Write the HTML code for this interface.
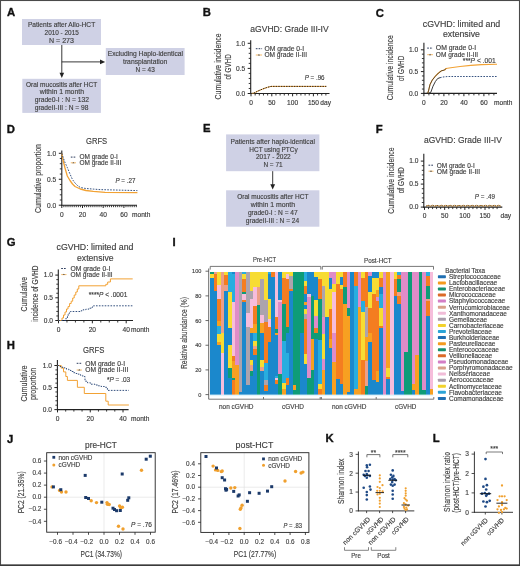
<!DOCTYPE html>
<html><head><meta charset="utf-8"><style>
html,body{margin:0;padding:0;background:#fff;}
svg{display:block;will-change:transform;}
text{font-family:"Liberation Sans",sans-serif;}
</style></head><body>
<svg width="520" height="566" viewBox="0 0 520 566" font-family="Liberation Sans, sans-serif" fill="#404040">
<rect width="520" height="566" fill="#fff"/>
<text x="7.00" y="16.40" font-size="11.3" fill="#111" stroke="#111" stroke-width="0.35" font-weight="bold">A</text>
<rect x="22.00" y="19.00" width="79.00" height="26.00" fill="#cfd1e5" />
<text x="27.90" y="27.10" font-size="7.0" stroke="#404040" stroke-width="0.15" textLength="67.30" lengthAdjust="spacingAndGlyphs">Patients after Allo-HCT</text>
<text x="44.60" y="34.80" font-size="7.0" stroke="#404040" stroke-width="0.15" textLength="34.20" lengthAdjust="spacingAndGlyphs">2010 - 2015</text>
<text x="49.00" y="42.90" font-size="7.0" stroke="#404040" stroke-width="0.15" textLength="25.00" lengthAdjust="spacingAndGlyphs">N = 273</text>
<rect x="105.80" y="48.00" width="78.80" height="27.00" fill="#cfd1e5" />
<text x="107.70" y="56.30" font-size="7.0" stroke="#404040" stroke-width="0.15" textLength="75.30" lengthAdjust="spacingAndGlyphs">Excluding Haplo-identical</text>
<text x="123.00" y="64.00" font-size="7.0" stroke="#404040" stroke-width="0.15" textLength="44.30" lengthAdjust="spacingAndGlyphs">transplantation</text>
<text x="135.60" y="71.90" font-size="7.0" stroke="#404040" stroke-width="0.15" textLength="19.20" lengthAdjust="spacingAndGlyphs">N = 43</text>
<rect x="22.30" y="78.80" width="78.60" height="34.10" fill="#cfd1e5" />
<text x="26.00" y="86.70" font-size="7.0" stroke="#404040" stroke-width="0.15" textLength="71.20" lengthAdjust="spacingAndGlyphs">Oral mucositis after HCT</text>
<text x="39.70" y="94.40" font-size="7.0" stroke="#404040" stroke-width="0.15" textLength="44.30" lengthAdjust="spacingAndGlyphs">within 1 month</text>
<text x="34.70" y="101.70" font-size="7.0" stroke="#404040" stroke-width="0.15" textLength="54.30" lengthAdjust="spacingAndGlyphs">grade0-I : N = 132</text>
<text x="34.70" y="110.00" font-size="7.0" stroke="#404040" stroke-width="0.15" textLength="53.70" lengthAdjust="spacingAndGlyphs">gradeII-III : N = 98</text>
<line x1="61.80" y1="45.00" x2="61.80" y2="73.50" stroke="#222" stroke-width="0.9" />
<polygon points="59.5,72.7 64.1,72.7 61.8,77.9" fill="#222"/>
<line x1="61.80" y1="61.90" x2="100.50" y2="61.90" stroke="#222" stroke-width="0.9" />
<polygon points="100,59.6 100,64.2 105.2,61.9" fill="#222"/>
<text x="203.00" y="132.20" font-size="11.3" fill="#111" stroke="#111" stroke-width="0.35" font-weight="bold">E</text>
<rect x="226.10" y="134.40" width="93.30" height="36.80" fill="#cfd1e5" />
<text x="230.50" y="144.20" font-size="7.0" stroke="#404040" stroke-width="0.15" textLength="84.40" lengthAdjust="spacingAndGlyphs">Patients after haplo-identical</text>
<text x="249.30" y="151.80" font-size="7.0" stroke="#404040" stroke-width="0.15" textLength="48.40" lengthAdjust="spacingAndGlyphs">HCT using PTCy</text>
<text x="256.00" y="159.40" font-size="7.0" stroke="#404040" stroke-width="0.15" textLength="34.70" lengthAdjust="spacingAndGlyphs">2017 - 2022</text>
<text x="263.40" y="167.00" font-size="7.0" stroke="#404040" stroke-width="0.15" textLength="19.20" lengthAdjust="spacingAndGlyphs">N = 71</text>
<line x1="272.70" y1="171.20" x2="272.70" y2="185.00" stroke="#222" stroke-width="0.9" />
<polygon points="270.3,184.2 275.1,184.2 272.7,189.4" fill="#222"/>
<rect x="226.10" y="190.30" width="93.30" height="36.40" fill="#cfd1e5" />
<text x="237.20" y="199.10" font-size="7.0" stroke="#404040" stroke-width="0.15" textLength="71.20" lengthAdjust="spacingAndGlyphs">Oral mucositis after HCT</text>
<text x="250.70" y="206.70" font-size="7.0" stroke="#404040" stroke-width="0.15" textLength="44.40" lengthAdjust="spacingAndGlyphs">within 1 month</text>
<text x="247.90" y="214.50" font-size="7.0" stroke="#404040" stroke-width="0.15" textLength="49.80" lengthAdjust="spacingAndGlyphs">grade0-I : N = 47</text>
<text x="245.80" y="222.60" font-size="7.0" stroke="#404040" stroke-width="0.15" textLength="53.40" lengthAdjust="spacingAndGlyphs">gradeII-III : N = 24</text>
<text x="202.70" y="16.30" font-size="11.3" fill="#111" stroke="#111" stroke-width="0.35" font-weight="bold">B</text>
<text x="250.30" y="32.30" font-size="8.6" stroke="#404040" stroke-width="0.15" textLength="78.40" lengthAdjust="spacingAndGlyphs">aGVHD: Grade III-IV</text>
<text x="0" y="0" font-size="8.6" text-anchor="middle" fill="#404040" stroke="#404040" stroke-width="0.15" textLength="66.00" lengthAdjust="spacingAndGlyphs" transform="translate(220.90 66.50) rotate(-90)">Cumulative incidence</text>
<text x="0" y="0" font-size="8.6" text-anchor="middle" fill="#404040" stroke="#404040" stroke-width="0.15" textLength="25.40" lengthAdjust="spacingAndGlyphs" transform="translate(231.20 66.90) rotate(-90)">of GVHD</text>
<line x1="250.70" y1="40.20" x2="250.70" y2="94.10" stroke="#222" stroke-width="1.1" />
<line x1="250.20" y1="93.50" x2="329.50" y2="93.50" stroke="#222" stroke-width="1.1" />
<line x1="247.70" y1="43.30" x2="250.70" y2="43.30" stroke="#222" stroke-width="1.0" />
<text x="245.20" y="45.60" font-size="6.6" text-anchor="end" fill="#3a3a3a" stroke="#3a3a3a" stroke-width="0.15">1.0</text>
<line x1="247.70" y1="68.40" x2="250.70" y2="68.40" stroke="#222" stroke-width="1.0" />
<text x="245.20" y="70.70" font-size="6.6" text-anchor="end" fill="#3a3a3a" stroke="#3a3a3a" stroke-width="0.15">0.5</text>
<line x1="247.70" y1="93.50" x2="250.70" y2="93.50" stroke="#222" stroke-width="1.0" />
<text x="245.20" y="95.80" font-size="6.6" text-anchor="end" fill="#3a3a3a" stroke="#3a3a3a" stroke-width="0.15">0.0</text>
<line x1="248.70" y1="88.48" x2="250.70" y2="88.48" stroke="#222" stroke-width="0.9" />
<line x1="248.70" y1="83.46" x2="250.70" y2="83.46" stroke="#222" stroke-width="0.9" />
<line x1="248.70" y1="78.44" x2="250.70" y2="78.44" stroke="#222" stroke-width="0.9" />
<line x1="248.70" y1="73.42" x2="250.70" y2="73.42" stroke="#222" stroke-width="0.9" />
<line x1="248.70" y1="63.38" x2="250.70" y2="63.38" stroke="#222" stroke-width="0.9" />
<line x1="248.70" y1="58.36" x2="250.70" y2="58.36" stroke="#222" stroke-width="0.9" />
<line x1="248.70" y1="53.34" x2="250.70" y2="53.34" stroke="#222" stroke-width="0.9" />
<line x1="248.70" y1="48.32" x2="250.70" y2="48.32" stroke="#222" stroke-width="0.9" />
<line x1="251.00" y1="93.50" x2="251.00" y2="96.30" stroke="#222" stroke-width="1.0" />
<text x="251.00" y="105.10" font-size="6.6" text-anchor="middle" fill="#3a3a3a" stroke="#3a3a3a" stroke-width="0.15">0</text>
<line x1="271.80" y1="93.50" x2="271.80" y2="96.30" stroke="#222" stroke-width="1.0" />
<text x="271.80" y="105.10" font-size="6.6" text-anchor="middle" fill="#3a3a3a" stroke="#3a3a3a" stroke-width="0.15">50</text>
<line x1="292.60" y1="93.50" x2="292.60" y2="96.30" stroke="#222" stroke-width="1.0" />
<text x="292.60" y="105.10" font-size="6.6" text-anchor="middle" fill="#3a3a3a" stroke="#3a3a3a" stroke-width="0.15">100</text>
<line x1="313.40" y1="93.50" x2="313.40" y2="96.30" stroke="#222" stroke-width="1.0" />
<text x="313.40" y="105.10" font-size="6.6" text-anchor="middle" fill="#3a3a3a" stroke="#3a3a3a" stroke-width="0.15">150</text>
<line x1="255.16" y1="93.50" x2="255.16" y2="95.50" stroke="#222" stroke-width="0.9" />
<line x1="259.32" y1="93.50" x2="259.32" y2="95.50" stroke="#222" stroke-width="0.9" />
<line x1="263.48" y1="93.50" x2="263.48" y2="95.50" stroke="#222" stroke-width="0.9" />
<line x1="267.64" y1="93.50" x2="267.64" y2="95.50" stroke="#222" stroke-width="0.9" />
<line x1="275.96" y1="93.50" x2="275.96" y2="95.50" stroke="#222" stroke-width="0.9" />
<line x1="280.12" y1="93.50" x2="280.12" y2="95.50" stroke="#222" stroke-width="0.9" />
<line x1="284.28" y1="93.50" x2="284.28" y2="95.50" stroke="#222" stroke-width="0.9" />
<line x1="288.44" y1="93.50" x2="288.44" y2="95.50" stroke="#222" stroke-width="0.9" />
<line x1="296.76" y1="93.50" x2="296.76" y2="95.50" stroke="#222" stroke-width="0.9" />
<line x1="300.92" y1="93.50" x2="300.92" y2="95.50" stroke="#222" stroke-width="0.9" />
<line x1="305.08" y1="93.50" x2="305.08" y2="95.50" stroke="#222" stroke-width="0.9" />
<line x1="309.24" y1="93.50" x2="309.24" y2="95.50" stroke="#222" stroke-width="0.9" />
<line x1="317.56" y1="93.50" x2="317.56" y2="95.50" stroke="#222" stroke-width="0.9" />
<line x1="321.72" y1="93.50" x2="321.72" y2="95.50" stroke="#222" stroke-width="0.9" />
<line x1="325.88" y1="93.50" x2="325.88" y2="95.50" stroke="#222" stroke-width="0.9" />
<text x="320.30" y="105.10" font-size="6.6" fill="#3a3a3a" stroke="#3a3a3a" stroke-width="0.15">day</text>
<line x1="255.80" y1="48.70" x2="262.10" y2="48.70" stroke="#2b3a5c" stroke-width="1.0" stroke-dasharray="1.7 1.1"/>
<line x1="255.80" y1="55.00" x2="262.10" y2="55.00" stroke="#f3b25a" stroke-width="0.9" />
<polygon points="257.85,55.50 260.05,55.50 258.95,54.10" fill="#555"/>
<text x="264.40" y="51.00" font-size="6.7" stroke="#404040" stroke-width="0.15" textLength="39.80" lengthAdjust="spacingAndGlyphs">OM grade 0-I</text>
<text x="264.40" y="57.30" font-size="6.7" stroke="#404040" stroke-width="0.15" textLength="42.60" lengthAdjust="spacingAndGlyphs">OM grade II-III</text>
<text x="304.70" y="80.10" font-size="6.7" stroke="#404040" stroke-width="0.15" textLength="19.90" lengthAdjust="spacingAndGlyphs"><tspan font-style="italic">P</tspan> = .96</text>
<polyline points="251.00,93.50 253.50,93.20 255.50,92.30 258.00,91.00 261.00,89.70 264.00,88.50 267.50,87.30 271.00,86.40 326.30,86.40" fill="none" stroke="#f2a234" stroke-width="1.0" stroke-linejoin="round"/>
<polyline points="251.00,93.50 253.50,93.20 255.50,92.30 258.00,91.00 261.00,89.70 264.00,88.50 267.50,87.30 271.00,86.40 326.30,86.40" fill="none" stroke="#1a1a1a" stroke-width="0.9" stroke-dasharray="1.5 1.1" stroke-linejoin="round"/>
<text x="375.80" y="17.00" font-size="11.3" fill="#111" stroke="#111" stroke-width="0.35" font-weight="bold">C</text>
<text x="422.80" y="26.80" font-size="8.5" stroke="#404040" stroke-width="0.15" textLength="77.40" lengthAdjust="spacingAndGlyphs">cGVHD: limited and</text>
<text x="443.00" y="37.20" font-size="8.5" stroke="#404040" stroke-width="0.15" textLength="36.90" lengthAdjust="spacingAndGlyphs">extensive</text>
<text x="0" y="0" font-size="8.6" text-anchor="middle" fill="#404040" stroke="#404040" stroke-width="0.15" textLength="65.00" lengthAdjust="spacingAndGlyphs" transform="translate(393.20 67.70) rotate(-90)">Cumulative incidence</text>
<text x="0" y="0" font-size="8.6" text-anchor="middle" fill="#404040" stroke="#404040" stroke-width="0.15" textLength="25.20" lengthAdjust="spacingAndGlyphs" transform="translate(404.00 68.40) rotate(-90)">of GVHD</text>
<line x1="423.90" y1="42.80" x2="423.90" y2="94.00" stroke="#222" stroke-width="1.1" />
<line x1="423.40" y1="93.40" x2="497.00" y2="93.40" stroke="#222" stroke-width="1.1" />
<line x1="420.90" y1="49.80" x2="423.90" y2="49.80" stroke="#222" stroke-width="1.0" />
<text x="418.20" y="52.10" font-size="6.6" text-anchor="end" fill="#3a3a3a" stroke="#3a3a3a" stroke-width="0.15">1.0</text>
<line x1="420.90" y1="71.60" x2="423.90" y2="71.60" stroke="#222" stroke-width="1.0" />
<text x="418.20" y="73.90" font-size="6.6" text-anchor="end" fill="#3a3a3a" stroke="#3a3a3a" stroke-width="0.15">0.5</text>
<line x1="420.90" y1="93.40" x2="423.90" y2="93.40" stroke="#222" stroke-width="1.0" />
<text x="418.20" y="95.70" font-size="6.6" text-anchor="end" fill="#3a3a3a" stroke="#3a3a3a" stroke-width="0.15">0.0</text>
<line x1="421.90" y1="89.04" x2="423.90" y2="89.04" stroke="#222" stroke-width="0.9" />
<line x1="421.90" y1="84.68" x2="423.90" y2="84.68" stroke="#222" stroke-width="0.9" />
<line x1="421.90" y1="80.32" x2="423.90" y2="80.32" stroke="#222" stroke-width="0.9" />
<line x1="421.90" y1="75.96" x2="423.90" y2="75.96" stroke="#222" stroke-width="0.9" />
<line x1="421.90" y1="67.24" x2="423.90" y2="67.24" stroke="#222" stroke-width="0.9" />
<line x1="421.90" y1="62.88" x2="423.90" y2="62.88" stroke="#222" stroke-width="0.9" />
<line x1="421.90" y1="58.52" x2="423.90" y2="58.52" stroke="#222" stroke-width="0.9" />
<line x1="421.90" y1="54.16" x2="423.90" y2="54.16" stroke="#222" stroke-width="0.9" />
<line x1="423.90" y1="93.40" x2="423.90" y2="96.20" stroke="#222" stroke-width="1.0" />
<text x="423.90" y="104.90" font-size="6.6" text-anchor="middle" fill="#3a3a3a" stroke="#3a3a3a" stroke-width="0.15">0</text>
<line x1="443.90" y1="93.40" x2="443.90" y2="96.20" stroke="#222" stroke-width="1.0" />
<text x="443.90" y="104.90" font-size="6.6" text-anchor="middle" fill="#3a3a3a" stroke="#3a3a3a" stroke-width="0.15">20</text>
<line x1="463.90" y1="93.40" x2="463.90" y2="96.20" stroke="#222" stroke-width="1.0" />
<text x="463.90" y="104.90" font-size="6.6" text-anchor="middle" fill="#3a3a3a" stroke="#3a3a3a" stroke-width="0.15">40</text>
<line x1="483.90" y1="93.40" x2="483.90" y2="96.20" stroke="#222" stroke-width="1.0" />
<text x="483.90" y="104.90" font-size="6.6" text-anchor="middle" fill="#3a3a3a" stroke="#3a3a3a" stroke-width="0.15">60</text>
<line x1="428.90" y1="93.40" x2="428.90" y2="95.40" stroke="#222" stroke-width="0.9" />
<line x1="433.90" y1="93.40" x2="433.90" y2="95.40" stroke="#222" stroke-width="0.9" />
<line x1="438.90" y1="93.40" x2="438.90" y2="95.40" stroke="#222" stroke-width="0.9" />
<line x1="448.90" y1="93.40" x2="448.90" y2="95.40" stroke="#222" stroke-width="0.9" />
<line x1="453.90" y1="93.40" x2="453.90" y2="95.40" stroke="#222" stroke-width="0.9" />
<line x1="458.90" y1="93.40" x2="458.90" y2="95.40" stroke="#222" stroke-width="0.9" />
<line x1="468.90" y1="93.40" x2="468.90" y2="95.40" stroke="#222" stroke-width="0.9" />
<line x1="473.90" y1="93.40" x2="473.90" y2="95.40" stroke="#222" stroke-width="0.9" />
<line x1="478.90" y1="93.40" x2="478.90" y2="95.40" stroke="#222" stroke-width="0.9" />
<line x1="488.90" y1="93.40" x2="488.90" y2="95.40" stroke="#222" stroke-width="0.9" />
<line x1="493.90" y1="93.40" x2="493.90" y2="95.40" stroke="#222" stroke-width="0.9" />
<text x="494.00" y="104.90" font-size="6.6" fill="#3a3a3a" stroke="#3a3a3a" stroke-width="0.15">month</text>
<line x1="427.20" y1="48.10" x2="432.90" y2="48.10" stroke="#2b3a5c" stroke-width="1.0" stroke-dasharray="1.7 1.1"/>
<line x1="427.20" y1="54.70" x2="432.90" y2="54.70" stroke="#f3b25a" stroke-width="0.9" />
<polygon points="428.95,55.20 431.15,55.20 430.05,53.80" fill="#555"/>
<text x="435.80" y="50.40" font-size="6.7" stroke="#404040" stroke-width="0.15" textLength="40.40" lengthAdjust="spacingAndGlyphs">OM grade 0-I</text>
<text x="435.80" y="57.00" font-size="6.7" stroke="#404040" stroke-width="0.15" textLength="42.30" lengthAdjust="spacingAndGlyphs">OM grade II-III</text>
<text x="462.80" y="63.10" font-size="6.7" stroke="#404040" stroke-width="0.15" textLength="32.90" lengthAdjust="spacingAndGlyphs">***<tspan font-style="italic">P</tspan> &lt; .001</text>
<polyline points="427.70,93.40 428.50,90.80 430.00,84.60 432.30,80.00 435.40,76.20 438.50,73.00 441.50,70.80 444.60,70.00 446.00,68.50 450.80,67.70 460.00,66.50 470.80,65.40 481.50,64.60 497.00,64.30" fill="none" stroke="#f2a234" stroke-width="1.1" stroke-linejoin="round"/>
<polyline points="427.70,93.40 428.50,90.80 430.00,84.60 432.30,80.00 435.40,76.20 438.50,73.00 441.50,70.80 444.60,70.00 446.00,68.50" fill="none" stroke="#222" stroke-width="0.7" stroke-linejoin="round"/>
<polyline points="426.00,93.40 428.50,93.30 430.80,92.30 433.00,86.20 435.40,81.50 437.70,78.50 440.00,77.70" fill="none" stroke="#222" stroke-width="0.9" stroke-linejoin="round"/>
<polyline points="440.00,77.70 443.00,77.00 447.70,76.50 497.00,76.50" fill="none" stroke="#1e3d70" stroke-width="0.9" stroke-dasharray="1.6 1.3" stroke-linejoin="round"/>
<text x="6.80" y="132.50" font-size="11.3" fill="#111" stroke="#111" stroke-width="0.35" font-weight="bold">D</text>
<text x="86.00" y="144.30" font-size="8.5" stroke="#404040" stroke-width="0.15" textLength="21.20" lengthAdjust="spacingAndGlyphs">GRFS</text>
<text x="0" y="0" font-size="8.6" text-anchor="middle" fill="#404040" stroke="#404040" stroke-width="0.15" textLength="69.00" lengthAdjust="spacingAndGlyphs" transform="translate(41.20 178.50) rotate(-90)">Cumulative proportion</text>
<line x1="61.80" y1="150.50" x2="61.80" y2="205.80" stroke="#222" stroke-width="1.1" />
<line x1="61.30" y1="205.20" x2="137.00" y2="205.20" stroke="#222" stroke-width="1.1" />
<line x1="58.80" y1="153.30" x2="61.80" y2="153.30" stroke="#222" stroke-width="1.0" />
<text x="56.20" y="155.60" font-size="6.6" text-anchor="end" fill="#3a3a3a" stroke="#3a3a3a" stroke-width="0.15">1.0</text>
<line x1="58.80" y1="179.25" x2="61.80" y2="179.25" stroke="#222" stroke-width="1.0" />
<text x="56.20" y="181.55" font-size="6.6" text-anchor="end" fill="#3a3a3a" stroke="#3a3a3a" stroke-width="0.15">0.5</text>
<line x1="58.80" y1="205.20" x2="61.80" y2="205.20" stroke="#222" stroke-width="1.0" />
<text x="56.20" y="207.50" font-size="6.6" text-anchor="end" fill="#3a3a3a" stroke="#3a3a3a" stroke-width="0.15">0.0</text>
<line x1="59.80" y1="200.01" x2="61.80" y2="200.01" stroke="#222" stroke-width="0.9" />
<line x1="59.80" y1="194.82" x2="61.80" y2="194.82" stroke="#222" stroke-width="0.9" />
<line x1="59.80" y1="189.63" x2="61.80" y2="189.63" stroke="#222" stroke-width="0.9" />
<line x1="59.80" y1="184.44" x2="61.80" y2="184.44" stroke="#222" stroke-width="0.9" />
<line x1="59.80" y1="174.06" x2="61.80" y2="174.06" stroke="#222" stroke-width="0.9" />
<line x1="59.80" y1="168.87" x2="61.80" y2="168.87" stroke="#222" stroke-width="0.9" />
<line x1="59.80" y1="163.68" x2="61.80" y2="163.68" stroke="#222" stroke-width="0.9" />
<line x1="59.80" y1="158.49" x2="61.80" y2="158.49" stroke="#222" stroke-width="0.9" />
<line x1="61.80" y1="205.20" x2="61.80" y2="208.00" stroke="#222" stroke-width="1.0" />
<text x="61.80" y="216.80" font-size="6.6" text-anchor="middle" fill="#3a3a3a" stroke="#3a3a3a" stroke-width="0.15">0</text>
<line x1="82.50" y1="205.20" x2="82.50" y2="208.00" stroke="#222" stroke-width="1.0" />
<text x="82.50" y="216.80" font-size="6.6" text-anchor="middle" fill="#3a3a3a" stroke="#3a3a3a" stroke-width="0.15">20</text>
<line x1="103.20" y1="205.20" x2="103.20" y2="208.00" stroke="#222" stroke-width="1.0" />
<text x="103.20" y="216.80" font-size="6.6" text-anchor="middle" fill="#3a3a3a" stroke="#3a3a3a" stroke-width="0.15">40</text>
<line x1="123.90" y1="205.20" x2="123.90" y2="208.00" stroke="#222" stroke-width="1.0" />
<text x="123.90" y="216.80" font-size="6.6" text-anchor="middle" fill="#3a3a3a" stroke="#3a3a3a" stroke-width="0.15">60</text>
<line x1="63.87" y1="205.20" x2="63.87" y2="207.20" stroke="#222" stroke-width="0.9" />
<line x1="65.94" y1="205.20" x2="65.94" y2="207.20" stroke="#222" stroke-width="0.9" />
<line x1="68.01" y1="205.20" x2="68.01" y2="207.20" stroke="#222" stroke-width="0.9" />
<line x1="70.08" y1="205.20" x2="70.08" y2="207.20" stroke="#222" stroke-width="0.9" />
<line x1="72.15" y1="205.20" x2="72.15" y2="207.20" stroke="#222" stroke-width="0.9" />
<line x1="74.22" y1="205.20" x2="74.22" y2="207.20" stroke="#222" stroke-width="0.9" />
<line x1="76.29" y1="205.20" x2="76.29" y2="207.20" stroke="#222" stroke-width="0.9" />
<line x1="78.36" y1="205.20" x2="78.36" y2="207.20" stroke="#222" stroke-width="0.9" />
<line x1="80.43" y1="205.20" x2="80.43" y2="207.20" stroke="#222" stroke-width="0.9" />
<line x1="84.57" y1="205.20" x2="84.57" y2="207.20" stroke="#222" stroke-width="0.9" />
<line x1="86.64" y1="205.20" x2="86.64" y2="207.20" stroke="#222" stroke-width="0.9" />
<line x1="88.71" y1="205.20" x2="88.71" y2="207.20" stroke="#222" stroke-width="0.9" />
<line x1="90.78" y1="205.20" x2="90.78" y2="207.20" stroke="#222" stroke-width="0.9" />
<line x1="92.85" y1="205.20" x2="92.85" y2="207.20" stroke="#222" stroke-width="0.9" />
<line x1="94.92" y1="205.20" x2="94.92" y2="207.20" stroke="#222" stroke-width="0.9" />
<line x1="96.99" y1="205.20" x2="96.99" y2="207.20" stroke="#222" stroke-width="0.9" />
<line x1="99.06" y1="205.20" x2="99.06" y2="207.20" stroke="#222" stroke-width="0.9" />
<line x1="101.13" y1="205.20" x2="101.13" y2="207.20" stroke="#222" stroke-width="0.9" />
<line x1="105.27" y1="205.20" x2="105.27" y2="207.20" stroke="#222" stroke-width="0.9" />
<line x1="107.34" y1="205.20" x2="107.34" y2="207.20" stroke="#222" stroke-width="0.9" />
<line x1="109.41" y1="205.20" x2="109.41" y2="207.20" stroke="#222" stroke-width="0.9" />
<line x1="111.48" y1="205.20" x2="111.48" y2="207.20" stroke="#222" stroke-width="0.9" />
<line x1="113.55" y1="205.20" x2="113.55" y2="207.20" stroke="#222" stroke-width="0.9" />
<line x1="115.62" y1="205.20" x2="115.62" y2="207.20" stroke="#222" stroke-width="0.9" />
<line x1="117.69" y1="205.20" x2="117.69" y2="207.20" stroke="#222" stroke-width="0.9" />
<line x1="119.76" y1="205.20" x2="119.76" y2="207.20" stroke="#222" stroke-width="0.9" />
<line x1="121.83" y1="205.20" x2="121.83" y2="207.20" stroke="#222" stroke-width="0.9" />
<line x1="125.97" y1="205.20" x2="125.97" y2="207.20" stroke="#222" stroke-width="0.9" />
<line x1="128.04" y1="205.20" x2="128.04" y2="207.20" stroke="#222" stroke-width="0.9" />
<line x1="130.11" y1="205.20" x2="130.11" y2="207.20" stroke="#222" stroke-width="0.9" />
<line x1="132.18" y1="205.20" x2="132.18" y2="207.20" stroke="#222" stroke-width="0.9" />
<line x1="134.25" y1="205.20" x2="134.25" y2="207.20" stroke="#222" stroke-width="0.9" />
<line x1="136.32" y1="205.20" x2="136.32" y2="207.20" stroke="#222" stroke-width="0.9" />
<text x="132.00" y="216.80" font-size="6.6" fill="#3a3a3a" stroke="#3a3a3a" stroke-width="0.15">month</text>
<line x1="70.80" y1="157.10" x2="76.00" y2="157.10" stroke="#2b3a5c" stroke-width="1.0" stroke-dasharray="1.7 1.1"/>
<line x1="70.80" y1="162.80" x2="76.00" y2="162.80" stroke="#f3b25a" stroke-width="0.9" />
<polygon points="72.30,163.30 74.50,163.30 73.40,161.90" fill="#555"/>
<text x="79.40" y="159.40" font-size="6.7" stroke="#404040" stroke-width="0.15" textLength="38.50" lengthAdjust="spacingAndGlyphs">OM grade 0-I</text>
<text x="79.40" y="165.10" font-size="6.7" stroke="#404040" stroke-width="0.15" textLength="42.00" lengthAdjust="spacingAndGlyphs">OM grade II-III</text>
<text x="115.40" y="183.30" font-size="6.7" stroke="#404040" stroke-width="0.15" textLength="20.00" lengthAdjust="spacingAndGlyphs"><tspan font-style="italic">P</tspan> = .27</text>
<polyline points="61.80,153.30 63.00,160.00 65.00,168.00 67.30,176.00 70.00,180.50 72.50,184.00 75.00,186.50 80.30,189.00 86.00,190.50 93.30,191.40 105.00,192.30 137.40,192.60" fill="none" stroke="#f2a234" stroke-width="1.3" stroke-linejoin="round"/>
<polyline points="61.80,153.30 63.00,157.00 65.00,162.50 67.30,167.50 70.00,174.00 72.50,179.60 75.00,183.00 78.00,186.00 80.30,187.40 85.00,188.40 93.30,189.10 100.00,189.60 137.40,190.60" fill="none" stroke="#1e3d70" stroke-width="0.9" stroke-dasharray="1.6 1.3" stroke-linejoin="round"/>
<text x="375.80" y="132.60" font-size="11.3" fill="#111" stroke="#111" stroke-width="0.35" font-weight="bold">F</text>
<text x="424.00" y="143.40" font-size="8.6" stroke="#404040" stroke-width="0.15" textLength="77.80" lengthAdjust="spacingAndGlyphs">aGVHD: Grade III-IV</text>
<text x="0" y="0" font-size="8.6" text-anchor="middle" fill="#404040" stroke="#404040" stroke-width="0.15" textLength="66.20" lengthAdjust="spacingAndGlyphs" transform="translate(393.90 180.60) rotate(-90)">Cumulative incidence</text>
<text x="0" y="0" font-size="8.6" text-anchor="middle" fill="#404040" stroke="#404040" stroke-width="0.15" textLength="26.00" lengthAdjust="spacingAndGlyphs" transform="translate(403.50 180.30) rotate(-90)">of GVHD</text>
<line x1="423.80" y1="153.80" x2="423.80" y2="207.70" stroke="#222" stroke-width="1.1" />
<line x1="423.30" y1="207.10" x2="502.30" y2="207.10" stroke="#222" stroke-width="1.1" />
<line x1="420.80" y1="161.10" x2="423.80" y2="161.10" stroke="#222" stroke-width="1.0" />
<text x="418.50" y="163.40" font-size="6.6" text-anchor="end" fill="#3a3a3a" stroke="#3a3a3a" stroke-width="0.15">1.0</text>
<line x1="420.80" y1="184.10" x2="423.80" y2="184.10" stroke="#222" stroke-width="1.0" />
<text x="418.50" y="186.40" font-size="6.6" text-anchor="end" fill="#3a3a3a" stroke="#3a3a3a" stroke-width="0.15">0.5</text>
<line x1="420.80" y1="207.10" x2="423.80" y2="207.10" stroke="#222" stroke-width="1.0" />
<text x="418.50" y="209.40" font-size="6.6" text-anchor="end" fill="#3a3a3a" stroke="#3a3a3a" stroke-width="0.15">0.0</text>
<line x1="421.80" y1="202.50" x2="423.80" y2="202.50" stroke="#222" stroke-width="0.9" />
<line x1="421.80" y1="197.90" x2="423.80" y2="197.90" stroke="#222" stroke-width="0.9" />
<line x1="421.80" y1="193.30" x2="423.80" y2="193.30" stroke="#222" stroke-width="0.9" />
<line x1="421.80" y1="188.70" x2="423.80" y2="188.70" stroke="#222" stroke-width="0.9" />
<line x1="421.80" y1="179.50" x2="423.80" y2="179.50" stroke="#222" stroke-width="0.9" />
<line x1="421.80" y1="174.90" x2="423.80" y2="174.90" stroke="#222" stroke-width="0.9" />
<line x1="421.80" y1="170.30" x2="423.80" y2="170.30" stroke="#222" stroke-width="0.9" />
<line x1="421.80" y1="165.70" x2="423.80" y2="165.70" stroke="#222" stroke-width="0.9" />
<line x1="424.50" y1="207.10" x2="424.50" y2="209.90" stroke="#222" stroke-width="1.0" />
<text x="424.50" y="218.30" font-size="6.6" text-anchor="middle" fill="#3a3a3a" stroke="#3a3a3a" stroke-width="0.15">0</text>
<line x1="444.67" y1="207.10" x2="444.67" y2="209.90" stroke="#222" stroke-width="1.0" />
<text x="444.67" y="218.30" font-size="6.6" text-anchor="middle" fill="#3a3a3a" stroke="#3a3a3a" stroke-width="0.15">50</text>
<line x1="464.83" y1="207.10" x2="464.83" y2="209.90" stroke="#222" stroke-width="1.0" />
<text x="464.83" y="218.30" font-size="6.6" text-anchor="middle" fill="#3a3a3a" stroke="#3a3a3a" stroke-width="0.15">100</text>
<line x1="485.00" y1="207.10" x2="485.00" y2="209.90" stroke="#222" stroke-width="1.0" />
<text x="485.00" y="218.30" font-size="6.6" text-anchor="middle" fill="#3a3a3a" stroke="#3a3a3a" stroke-width="0.15">150</text>
<line x1="428.53" y1="207.10" x2="428.53" y2="209.10" stroke="#222" stroke-width="0.9" />
<line x1="432.57" y1="207.10" x2="432.57" y2="209.10" stroke="#222" stroke-width="0.9" />
<line x1="436.60" y1="207.10" x2="436.60" y2="209.10" stroke="#222" stroke-width="0.9" />
<line x1="440.63" y1="207.10" x2="440.63" y2="209.10" stroke="#222" stroke-width="0.9" />
<line x1="448.70" y1="207.10" x2="448.70" y2="209.10" stroke="#222" stroke-width="0.9" />
<line x1="452.73" y1="207.10" x2="452.73" y2="209.10" stroke="#222" stroke-width="0.9" />
<line x1="456.77" y1="207.10" x2="456.77" y2="209.10" stroke="#222" stroke-width="0.9" />
<line x1="460.80" y1="207.10" x2="460.80" y2="209.10" stroke="#222" stroke-width="0.9" />
<line x1="468.87" y1="207.10" x2="468.87" y2="209.10" stroke="#222" stroke-width="0.9" />
<line x1="472.90" y1="207.10" x2="472.90" y2="209.10" stroke="#222" stroke-width="0.9" />
<line x1="476.93" y1="207.10" x2="476.93" y2="209.10" stroke="#222" stroke-width="0.9" />
<line x1="480.97" y1="207.10" x2="480.97" y2="209.10" stroke="#222" stroke-width="0.9" />
<line x1="489.03" y1="207.10" x2="489.03" y2="209.10" stroke="#222" stroke-width="0.9" />
<line x1="493.07" y1="207.10" x2="493.07" y2="209.10" stroke="#222" stroke-width="0.9" />
<line x1="497.10" y1="207.10" x2="497.10" y2="209.10" stroke="#222" stroke-width="0.9" />
<text x="500.50" y="218.30" font-size="6.6" fill="#3a3a3a" stroke="#3a3a3a" stroke-width="0.15">day</text>
<line x1="428.50" y1="165.20" x2="433.50" y2="165.20" stroke="#2b3a5c" stroke-width="1.0" stroke-dasharray="1.7 1.1"/>
<line x1="428.50" y1="171.20" x2="433.50" y2="171.20" stroke="#f3b25a" stroke-width="0.9" />
<polygon points="429.90,171.70 432.10,171.70 431.00,170.30" fill="#555"/>
<text x="436.70" y="167.50" font-size="6.7" stroke="#404040" stroke-width="0.15" textLength="38.10" lengthAdjust="spacingAndGlyphs">OM grade 0-I</text>
<text x="436.70" y="173.50" font-size="6.7" stroke="#404040" stroke-width="0.15" textLength="43.40" lengthAdjust="spacingAndGlyphs">OM grade II-III</text>
<text x="474.80" y="199.30" font-size="6.7" stroke="#404040" stroke-width="0.15" textLength="20.10" lengthAdjust="spacingAndGlyphs"><tspan font-style="italic">P</tspan> = .49</text>
<polyline points="426.00,206.20 428.20,205.30 430.40,206.20 432.60,205.30 434.80,206.20 437.00,205.30 439.20,206.20 441.40,205.30 443.60,206.20 445.80,205.30 448.00,206.20 450.20,205.30 452.40,206.20 454.60,205.30 456.80,206.20 459.00,205.30 461.20,206.20 463.40,205.30 465.60,206.20 467.80,205.30 470.00,206.20 472.20,205.30 474.40,206.20 476.60,205.30 478.80,206.20 481.00,205.30 483.20,206.20 485.40,205.30 487.60,206.20 489.80,205.30 492.00,206.20 494.20,205.30 496.40,206.20 498.60,205.30 500.80,206.20" fill="none" stroke="#f2a234" stroke-width="0.9" stroke-linejoin="round"/>
<polyline points="426.00,206.20 428.20,205.30 430.40,206.20 432.60,205.30 434.80,206.20 437.00,205.30 439.20,206.20 441.40,205.30 443.60,206.20 445.80,205.30 448.00,206.20 450.20,205.30 452.40,206.20 454.60,205.30 456.80,206.20 459.00,205.30 461.20,206.20 463.40,205.30 465.60,206.20 467.80,205.30 470.00,206.20 472.20,205.30 474.40,206.20 476.60,205.30 478.80,206.20 481.00,205.30 483.20,206.20 485.40,205.30 487.60,206.20 489.80,205.30 492.00,206.20 494.20,205.30 496.40,206.20 498.60,205.30 500.80,206.20" fill="none" stroke="#222" stroke-width="0.7" stroke-dasharray="1.4 1.0" stroke-linejoin="round"/>
<text x="6.80" y="245.50" font-size="11.3" fill="#111" stroke="#111" stroke-width="0.35" font-weight="bold">G</text>
<text x="56.50" y="250.30" font-size="8.5" stroke="#404040" stroke-width="0.15" textLength="76.90" lengthAdjust="spacingAndGlyphs">cGVHD: limited and</text>
<text x="77.00" y="260.70" font-size="8.5" stroke="#404040" stroke-width="0.15" textLength="36.60" lengthAdjust="spacingAndGlyphs">extensive</text>
<text x="0" y="0" font-size="8.6" text-anchor="middle" fill="#404040" stroke="#404040" stroke-width="0.15" textLength="34.60" lengthAdjust="spacingAndGlyphs" transform="translate(27.30 294.30) rotate(-90)">Cumulative</text>
<text x="0" y="0" font-size="8.6" text-anchor="middle" fill="#404040" stroke="#404040" stroke-width="0.15" textLength="56.30" lengthAdjust="spacingAndGlyphs" transform="translate(38.00 293.50) rotate(-90)">incidence of GVHD</text>
<line x1="58.30" y1="269.50" x2="58.30" y2="321.10" stroke="#222" stroke-width="1.1" />
<line x1="57.80" y1="320.50" x2="133.00" y2="320.50" stroke="#222" stroke-width="1.1" />
<line x1="55.30" y1="275.10" x2="58.30" y2="275.10" stroke="#222" stroke-width="1.0" />
<text x="53.00" y="277.40" font-size="6.6" text-anchor="end" fill="#3a3a3a" stroke="#3a3a3a" stroke-width="0.15">1.0</text>
<line x1="55.30" y1="297.80" x2="58.30" y2="297.80" stroke="#222" stroke-width="1.0" />
<text x="53.00" y="300.10" font-size="6.6" text-anchor="end" fill="#3a3a3a" stroke="#3a3a3a" stroke-width="0.15">0.5</text>
<line x1="55.30" y1="320.50" x2="58.30" y2="320.50" stroke="#222" stroke-width="1.0" />
<text x="53.00" y="322.80" font-size="6.6" text-anchor="end" fill="#3a3a3a" stroke="#3a3a3a" stroke-width="0.15">0.0</text>
<line x1="56.30" y1="315.96" x2="58.30" y2="315.96" stroke="#222" stroke-width="0.9" />
<line x1="56.30" y1="311.42" x2="58.30" y2="311.42" stroke="#222" stroke-width="0.9" />
<line x1="56.30" y1="306.88" x2="58.30" y2="306.88" stroke="#222" stroke-width="0.9" />
<line x1="56.30" y1="302.34" x2="58.30" y2="302.34" stroke="#222" stroke-width="0.9" />
<line x1="56.30" y1="293.26" x2="58.30" y2="293.26" stroke="#222" stroke-width="0.9" />
<line x1="56.30" y1="288.72" x2="58.30" y2="288.72" stroke="#222" stroke-width="0.9" />
<line x1="56.30" y1="284.18" x2="58.30" y2="284.18" stroke="#222" stroke-width="0.9" />
<line x1="56.30" y1="279.64" x2="58.30" y2="279.64" stroke="#222" stroke-width="0.9" />
<line x1="58.50" y1="320.50" x2="58.50" y2="323.30" stroke="#222" stroke-width="1.0" />
<text x="58.50" y="332.10" font-size="6.6" text-anchor="middle" fill="#3a3a3a" stroke="#3a3a3a" stroke-width="0.15">0</text>
<line x1="92.35" y1="320.50" x2="92.35" y2="323.30" stroke="#222" stroke-width="1.0" />
<text x="92.35" y="332.10" font-size="6.6" text-anchor="middle" fill="#3a3a3a" stroke="#3a3a3a" stroke-width="0.15">20</text>
<line x1="126.20" y1="320.50" x2="126.20" y2="323.30" stroke="#222" stroke-width="1.0" />
<text x="126.20" y="332.10" font-size="6.6" text-anchor="middle" fill="#3a3a3a" stroke="#3a3a3a" stroke-width="0.15">40</text>
<line x1="66.96" y1="320.50" x2="66.96" y2="322.50" stroke="#222" stroke-width="0.9" />
<line x1="75.42" y1="320.50" x2="75.42" y2="322.50" stroke="#222" stroke-width="0.9" />
<line x1="83.89" y1="320.50" x2="83.89" y2="322.50" stroke="#222" stroke-width="0.9" />
<line x1="100.81" y1="320.50" x2="100.81" y2="322.50" stroke="#222" stroke-width="0.9" />
<line x1="109.28" y1="320.50" x2="109.28" y2="322.50" stroke="#222" stroke-width="0.9" />
<line x1="117.74" y1="320.50" x2="117.74" y2="322.50" stroke="#222" stroke-width="0.9" />
<text x="131.00" y="332.10" font-size="6.6" fill="#3a3a3a" stroke="#3a3a3a" stroke-width="0.15">month</text>
<line x1="61.20" y1="268.50" x2="66.50" y2="268.50" stroke="#2b3a5c" stroke-width="1.0" stroke-dasharray="1.7 1.1"/>
<line x1="61.20" y1="274.60" x2="66.50" y2="274.60" stroke="#f3b25a" stroke-width="0.9" />
<polygon points="62.75,275.10 64.95,275.10 63.85,273.70" fill="#555"/>
<text x="70.40" y="270.80" font-size="6.7" stroke="#404040" stroke-width="0.15" textLength="40.00" lengthAdjust="spacingAndGlyphs">OM grade 0-I</text>
<text x="70.40" y="276.90" font-size="6.7" stroke="#404040" stroke-width="0.15" textLength="42.30" lengthAdjust="spacingAndGlyphs">OM grade II-III</text>
<text x="88.80" y="297.40" font-size="6.7" stroke="#404040" stroke-width="0.15" textLength="38.50" lengthAdjust="spacingAndGlyphs">****<tspan font-style="italic">P</tspan> &lt; .0001</text>
<polyline points="58.50,320.50 60.80,320.50 60.80,320.50 62.00,320.50 62.00,318.00 63.50,318.00 63.50,315.00 65.00,315.00 65.00,312.00 66.50,312.00 66.50,309.00 68.00,309.00 68.00,306.60 69.60,306.60 69.60,303.50 71.20,303.50 71.20,301.20 72.70,301.20 72.70,298.00 74.20,298.00 74.20,295.00 75.80,295.00 75.80,292.00 77.30,292.00 77.30,289.00 78.80,289.00 78.80,285.80 105.80,285.80 105.80,284.30 107.70,284.30 107.70,282.00 110.40,282.00 110.40,278.90 132.70,278.90" fill="none" stroke="#f2a234" stroke-width="1.0" stroke-linejoin="round"/>
<polyline points="58.50,320.50 64.50,320.50 64.50,320.50 66.00,320.50 66.00,318.00 67.50,318.00 67.50,315.00 69.00,315.00 69.00,313.00 70.40,313.00 70.40,311.50 81.20,311.50 81.20,310.70 83.00,310.70 83.00,309.80 85.80,309.80 85.80,309.20 88.80,309.20 88.80,308.20 92.00,308.20 92.00,307.00 93.50,307.00 93.50,305.80 132.70,305.80" fill="none" stroke="#1e3d70" stroke-width="0.9" stroke-dasharray="1.6 1.3" stroke-linejoin="round"/>
<text x="6.80" y="348.70" font-size="11.3" fill="#111" stroke="#111" stroke-width="0.35" font-weight="bold">H</text>
<text x="83.00" y="353.00" font-size="8.5" stroke="#404040" stroke-width="0.15" textLength="21.40" lengthAdjust="spacingAndGlyphs">GRFS</text>
<text x="0" y="0" font-size="8.6" text-anchor="middle" fill="#404040" stroke="#404040" stroke-width="0.15" textLength="36.00" lengthAdjust="spacingAndGlyphs" transform="translate(27.00 383.60) rotate(-90)">Cumulative</text>
<text x="0" y="0" font-size="8.6" text-anchor="middle" fill="#404040" stroke="#404040" stroke-width="0.15" textLength="32.30" lengthAdjust="spacingAndGlyphs" transform="translate(36.40 383.90) rotate(-90)">proportion</text>
<line x1="57.40" y1="360.00" x2="57.40" y2="410.20" stroke="#222" stroke-width="1.1" />
<line x1="56.90" y1="409.60" x2="128.60" y2="409.60" stroke="#222" stroke-width="1.1" />
<line x1="54.40" y1="365.50" x2="57.40" y2="365.50" stroke="#222" stroke-width="1.0" />
<text x="52.00" y="367.80" font-size="6.6" text-anchor="end" fill="#3a3a3a" stroke="#3a3a3a" stroke-width="0.15">1.0</text>
<line x1="54.40" y1="387.55" x2="57.40" y2="387.55" stroke="#222" stroke-width="1.0" />
<text x="52.00" y="389.85" font-size="6.6" text-anchor="end" fill="#3a3a3a" stroke="#3a3a3a" stroke-width="0.15">0.5</text>
<line x1="54.40" y1="409.60" x2="57.40" y2="409.60" stroke="#222" stroke-width="1.0" />
<text x="52.00" y="411.90" font-size="6.6" text-anchor="end" fill="#3a3a3a" stroke="#3a3a3a" stroke-width="0.15">0.0</text>
<line x1="55.40" y1="405.19" x2="57.40" y2="405.19" stroke="#222" stroke-width="0.9" />
<line x1="55.40" y1="400.78" x2="57.40" y2="400.78" stroke="#222" stroke-width="0.9" />
<line x1="55.40" y1="396.37" x2="57.40" y2="396.37" stroke="#222" stroke-width="0.9" />
<line x1="55.40" y1="391.96" x2="57.40" y2="391.96" stroke="#222" stroke-width="0.9" />
<line x1="55.40" y1="383.14" x2="57.40" y2="383.14" stroke="#222" stroke-width="0.9" />
<line x1="55.40" y1="378.73" x2="57.40" y2="378.73" stroke="#222" stroke-width="0.9" />
<line x1="55.40" y1="374.32" x2="57.40" y2="374.32" stroke="#222" stroke-width="0.9" />
<line x1="55.40" y1="369.91" x2="57.40" y2="369.91" stroke="#222" stroke-width="0.9" />
<line x1="57.50" y1="409.60" x2="57.50" y2="412.40" stroke="#222" stroke-width="1.0" />
<text x="57.50" y="421.30" font-size="6.6" text-anchor="middle" fill="#3a3a3a" stroke="#3a3a3a" stroke-width="0.15">0</text>
<line x1="90.25" y1="409.60" x2="90.25" y2="412.40" stroke="#222" stroke-width="1.0" />
<text x="90.25" y="421.30" font-size="6.6" text-anchor="middle" fill="#3a3a3a" stroke="#3a3a3a" stroke-width="0.15">20</text>
<line x1="123.00" y1="409.60" x2="123.00" y2="412.40" stroke="#222" stroke-width="1.0" />
<text x="123.00" y="421.30" font-size="6.6" text-anchor="middle" fill="#3a3a3a" stroke="#3a3a3a" stroke-width="0.15">40</text>
<line x1="65.69" y1="409.60" x2="65.69" y2="411.60" stroke="#222" stroke-width="0.9" />
<line x1="73.88" y1="409.60" x2="73.88" y2="411.60" stroke="#222" stroke-width="0.9" />
<line x1="82.06" y1="409.60" x2="82.06" y2="411.60" stroke="#222" stroke-width="0.9" />
<line x1="98.44" y1="409.60" x2="98.44" y2="411.60" stroke="#222" stroke-width="0.9" />
<line x1="106.62" y1="409.60" x2="106.62" y2="411.60" stroke="#222" stroke-width="0.9" />
<line x1="114.81" y1="409.60" x2="114.81" y2="411.60" stroke="#222" stroke-width="0.9" />
<text x="131.00" y="421.30" font-size="6.6" fill="#3a3a3a" stroke="#3a3a3a" stroke-width="0.15">month</text>
<line x1="76.70" y1="363.30" x2="81.90" y2="363.30" stroke="#2b3a5c" stroke-width="1.0" stroke-dasharray="1.7 1.1"/>
<line x1="76.70" y1="370.00" x2="81.90" y2="370.00" stroke="#f3b25a" stroke-width="0.9" />
<polygon points="78.20,370.50 80.40,370.50 79.30,369.10" fill="#555"/>
<text x="85.20" y="365.60" font-size="6.7" stroke="#404040" stroke-width="0.15" textLength="40.00" lengthAdjust="spacingAndGlyphs">OM grade 0-I</text>
<text x="85.20" y="372.30" font-size="6.7" stroke="#404040" stroke-width="0.15" textLength="43.10" lengthAdjust="spacingAndGlyphs">OM grade II-III</text>
<text x="107.00" y="381.50" font-size="6.7" stroke="#404040" stroke-width="0.15" textLength="23.10" lengthAdjust="spacingAndGlyphs">*<tspan font-style="italic">P</tspan> = .03</text>
<polyline points="57.50,365.50 61.20,365.50 61.20,368.10 63.50,368.10 63.50,371.90 65.80,371.90 65.80,376.50 67.40,376.50 67.40,380.40 77.40,380.40 77.40,387.30 84.30,387.30 84.30,393.50 105.80,393.50 105.80,401.20 108.20,401.20 108.20,405.00 128.90,405.00" fill="none" stroke="#f2a234" stroke-width="1.0" stroke-linejoin="round"/>
<polyline points="57.50,365.50 60.00,365.50 60.00,366.50 62.00,366.50 62.00,367.30 64.30,367.30 64.30,368.00 66.50,368.00 66.50,369.20 68.90,369.20 68.90,370.40 71.00,370.40 71.00,371.50 73.50,371.50 73.50,372.70 76.00,372.70 76.00,373.50 78.20,373.50 78.20,374.20 80.50,374.20 80.50,375.30 82.80,375.30 82.80,376.50 85.00,376.50 85.00,381.20 87.50,381.20 87.50,382.80 90.50,382.80 90.50,384.20 95.00,384.20 95.00,385.00 98.20,385.00 98.20,385.80 101.00,385.80 101.00,386.50 104.30,386.50 104.30,387.30 107.40,387.30 107.40,390.40 128.90,390.40" fill="none" stroke="#1e3d70" stroke-width="0.9" stroke-dasharray="1.6 1.3" stroke-linejoin="round"/>
<!--BARS-->
<g shape-rendering="crispEdges">
<rect x="210.00" y="271.54" width="3.65" height="2.65" fill="#0e9c77"/>
<rect x="210.00" y="274.19" width="3.65" height="3.46" fill="#f7dc33"/>
<rect x="210.00" y="277.65" width="3.65" height="55.35" fill="#1b88cc"/>
<rect x="210.00" y="333.00" width="3.65" height="61.60" fill="#1b88cc"/>
<rect x="213.60" y="271.54" width="3.65" height="2.08" fill="#ec9f88"/>
<rect x="213.60" y="273.61" width="3.65" height="17.30" fill="#f47d20"/>
<rect x="213.60" y="290.91" width="3.65" height="42.09" fill="#1b88cc"/>
<rect x="213.60" y="333.00" width="3.65" height="61.60" fill="#1b88cc"/>
<rect x="217.20" y="271.54" width="3.65" height="13.03" fill="#f7dc33"/>
<rect x="217.20" y="284.57" width="3.65" height="14.42" fill="#f6bddb"/>
<rect x="217.20" y="298.99" width="3.65" height="21.91" fill="#f47d20"/>
<rect x="217.20" y="320.90" width="3.65" height="4.61" fill="#f7a021"/>
<rect x="217.20" y="325.52" width="3.65" height="7.48" fill="#28addf"/>
<rect x="217.20" y="333.00" width="3.65" height="1.31" fill="#28addf"/>
<rect x="217.20" y="334.31" width="3.65" height="8.07" fill="#f7dc33"/>
<rect x="217.20" y="342.38" width="3.65" height="2.31" fill="#f7a021"/>
<rect x="217.20" y="344.69" width="3.65" height="49.91" fill="#1b88cc"/>
<rect x="220.80" y="271.54" width="3.65" height="61.46" fill="#ec9f88"/>
<rect x="220.80" y="333.00" width="3.65" height="19.76" fill="#f7dc33"/>
<rect x="220.80" y="352.76" width="3.65" height="41.84" fill="#f6bddb"/>
<rect x="224.40" y="271.54" width="3.65" height="3.23" fill="#f7dc33"/>
<rect x="224.40" y="274.77" width="3.65" height="10.38" fill="#f47d20"/>
<rect x="224.40" y="285.15" width="3.65" height="5.77" fill="#ec9f88"/>
<rect x="224.40" y="290.91" width="3.65" height="42.09" fill="#1b88cc"/>
<rect x="224.40" y="333.00" width="3.65" height="61.60" fill="#1b88cc"/>
<rect x="228.00" y="271.54" width="3.65" height="20.53" fill="#28addf"/>
<rect x="228.00" y="292.07" width="3.65" height="35.76" fill="#f7dc33"/>
<rect x="228.00" y="327.82" width="3.65" height="5.18" fill="#1b88cc"/>
<rect x="228.00" y="333.00" width="3.65" height="11.69" fill="#1b88cc"/>
<rect x="228.00" y="344.69" width="3.65" height="23.07" fill="#f7dc33"/>
<rect x="228.00" y="367.76" width="3.65" height="10.38" fill="#0e9c77"/>
<rect x="228.00" y="378.14" width="3.65" height="16.46" fill="#1b88cc"/>
<rect x="231.60" y="271.54" width="3.65" height="2.65" fill="#1b88cc"/>
<rect x="231.60" y="274.19" width="3.65" height="28.26" fill="#28addf"/>
<rect x="231.60" y="302.45" width="3.65" height="30.55" fill="#f6bddb"/>
<rect x="231.60" y="333.00" width="3.65" height="23.22" fill="#f6bddb"/>
<rect x="231.60" y="356.22" width="3.65" height="4.61" fill="#f47d20"/>
<rect x="231.60" y="360.84" width="3.65" height="17.30" fill="#f7a021"/>
<rect x="231.60" y="378.14" width="3.65" height="2.31" fill="#0e9c77"/>
<rect x="231.60" y="380.44" width="3.65" height="14.16" fill="#f47d20"/>
<rect x="235.20" y="271.54" width="3.65" height="61.46" fill="#df8cc8"/>
<rect x="235.20" y="333.00" width="3.65" height="31.87" fill="#df8cc8"/>
<rect x="235.20" y="364.87" width="3.65" height="29.73" fill="#f7a021"/>
<rect x="238.80" y="271.54" width="3.65" height="61.46" fill="#aca3ad"/>
<rect x="238.80" y="333.00" width="3.65" height="58.98" fill="#aca3ad"/>
<rect x="238.80" y="391.98" width="3.65" height="2.62" fill="#1b88cc"/>
<rect x="242.40" y="271.54" width="3.65" height="2.65" fill="#28addf"/>
<rect x="242.40" y="274.19" width="3.65" height="4.61" fill="#f7dc33"/>
<rect x="242.40" y="278.80" width="3.65" height="13.26" fill="#f47d20"/>
<rect x="242.40" y="292.07" width="3.65" height="1.73" fill="#0e9c77"/>
<rect x="242.40" y="293.80" width="3.65" height="5.77" fill="#f6bddb"/>
<rect x="242.40" y="299.57" width="3.65" height="2.31" fill="#f47d20"/>
<rect x="242.40" y="301.87" width="3.65" height="31.13" fill="#1b88cc"/>
<rect x="242.40" y="333.00" width="3.65" height="61.60" fill="#1b88cc"/>
<rect x="246.00" y="271.54" width="3.65" height="41.29" fill="#aca3ad"/>
<rect x="246.00" y="312.83" width="3.65" height="13.84" fill="#f6bddb"/>
<rect x="246.00" y="326.67" width="3.65" height="6.33" fill="#aca3ad"/>
<rect x="246.00" y="333.00" width="3.65" height="52.06" fill="#aca3ad"/>
<rect x="246.00" y="385.06" width="3.65" height="9.54" fill="#1b88cc"/>
<rect x="249.60" y="271.54" width="3.65" height="19.38" fill="#f7dc33"/>
<rect x="249.60" y="290.91" width="3.65" height="8.07" fill="#aca3ad"/>
<rect x="249.60" y="298.99" width="3.65" height="28.84" fill="#f6bddb"/>
<rect x="249.60" y="327.82" width="3.65" height="5.18" fill="#f7a021"/>
<rect x="249.60" y="333.00" width="3.65" height="26.68" fill="#1b88cc"/>
<rect x="249.60" y="359.68" width="3.65" height="5.77" fill="#f7dc33"/>
<rect x="249.60" y="365.45" width="3.65" height="5.77" fill="#ec9f88"/>
<rect x="249.60" y="371.22" width="3.65" height="4.61" fill="#0e9c77"/>
<rect x="249.60" y="375.83" width="3.65" height="18.77" fill="#1b88cc"/>
<rect x="253.20" y="271.54" width="3.65" height="15.92" fill="#f7dc33"/>
<rect x="253.20" y="287.45" width="3.65" height="18.45" fill="#f6bddb"/>
<rect x="253.20" y="305.91" width="3.65" height="18.45" fill="#f47d20"/>
<rect x="253.20" y="324.36" width="3.65" height="8.64" fill="#f7a021"/>
<rect x="253.20" y="333.00" width="3.65" height="8.23" fill="#28addf"/>
<rect x="253.20" y="341.23" width="3.65" height="4.61" fill="#f7dc33"/>
<rect x="253.20" y="345.84" width="3.65" height="3.46" fill="#ec9f88"/>
<rect x="253.20" y="349.30" width="3.65" height="5.77" fill="#f47d20"/>
<rect x="253.20" y="355.07" width="3.65" height="39.53" fill="#1b88cc"/>
<rect x="256.80" y="271.54" width="3.65" height="15.92" fill="#f7dc33"/>
<rect x="256.80" y="287.45" width="3.65" height="17.30" fill="#ec9f88"/>
<rect x="256.80" y="304.76" width="3.65" height="28.24" fill="#0e9c77"/>
<rect x="256.80" y="333.00" width="3.65" height="61.60" fill="#0e9c77"/>
<rect x="260.40" y="271.54" width="3.65" height="7.84" fill="#f7dc33"/>
<rect x="260.40" y="279.38" width="3.65" height="35.76" fill="#aca3ad"/>
<rect x="260.40" y="315.14" width="3.65" height="8.07" fill="#f6bddb"/>
<rect x="260.40" y="323.21" width="3.65" height="9.79" fill="#f7a021"/>
<rect x="260.40" y="333.00" width="3.65" height="26.68" fill="#1b88cc"/>
<rect x="260.40" y="359.68" width="3.65" height="6.92" fill="#f7dc33"/>
<rect x="260.40" y="366.60" width="3.65" height="4.61" fill="#ec9f88"/>
<rect x="260.40" y="371.22" width="3.65" height="23.38" fill="#1b88cc"/>
<rect x="264.00" y="271.54" width="3.65" height="28.60" fill="#f7dc33"/>
<rect x="264.00" y="300.14" width="3.65" height="21.91" fill="#aca3ad"/>
<rect x="264.00" y="322.06" width="3.65" height="10.94" fill="#f47d20"/>
<rect x="264.00" y="333.00" width="3.65" height="30.14" fill="#f47d20"/>
<rect x="264.00" y="363.14" width="3.65" height="17.30" fill="#28addf"/>
<rect x="264.00" y="380.44" width="3.65" height="4.61" fill="#aca3ad"/>
<rect x="264.00" y="385.06" width="3.65" height="5.77" fill="#f47d20"/>
<rect x="264.00" y="390.82" width="3.65" height="3.78" fill="#1b88cc"/>
<rect x="267.60" y="271.54" width="3.65" height="2.65" fill="#28addf"/>
<rect x="267.60" y="274.19" width="3.65" height="24.80" fill="#1b88cc"/>
<rect x="267.60" y="298.99" width="3.65" height="19.61" fill="#f7dc33"/>
<rect x="267.60" y="318.60" width="3.65" height="8.07" fill="#f6bddb"/>
<rect x="267.60" y="326.67" width="3.65" height="6.33" fill="#f47d20"/>
<rect x="267.60" y="333.00" width="3.65" height="9.38" fill="#f47d20"/>
<rect x="267.60" y="342.38" width="3.65" height="52.22" fill="#1b88cc"/>
<rect x="271.20" y="271.54" width="3.65" height="5.54" fill="#f47d20"/>
<rect x="271.20" y="277.07" width="3.65" height="55.93" fill="#1b88cc"/>
<rect x="271.20" y="333.00" width="3.65" height="61.60" fill="#1b88cc"/>
<rect x="274.80" y="271.54" width="3.65" height="45.91" fill="#f6bddb"/>
<rect x="274.80" y="317.44" width="3.65" height="11.53" fill="#f47d20"/>
<rect x="274.80" y="328.98" width="3.65" height="4.02" fill="#0e9c77"/>
<rect x="274.80" y="333.00" width="3.65" height="2.46" fill="#f7a021"/>
<rect x="274.80" y="335.46" width="3.65" height="40.37" fill="#1b88cc"/>
<rect x="274.80" y="375.83" width="3.65" height="2.31" fill="#28addf"/>
<rect x="274.80" y="378.14" width="3.65" height="2.31" fill="#f6bddb"/>
<rect x="274.80" y="380.44" width="3.65" height="3.46" fill="#f47d20"/>
<rect x="274.80" y="383.90" width="3.65" height="10.70" fill="#1b88cc"/>
<rect x="278.40" y="271.54" width="3.65" height="28.60" fill="#1b88cc"/>
<rect x="278.40" y="300.14" width="3.65" height="2.31" fill="#f6bddb"/>
<rect x="278.40" y="302.45" width="3.65" height="30.55" fill="#df8cc8"/>
<rect x="278.40" y="333.00" width="3.65" height="40.52" fill="#df8cc8"/>
<rect x="278.40" y="373.52" width="3.65" height="21.08" fill="#0e9c77"/>
<rect x="282.00" y="271.54" width="3.65" height="6.11" fill="#f7dc33"/>
<rect x="282.00" y="277.65" width="3.65" height="25.95" fill="#f47d20"/>
<rect x="282.00" y="303.60" width="3.65" height="29.40" fill="#0e9c77"/>
<rect x="282.00" y="333.00" width="3.65" height="8.23" fill="#0e9c77"/>
<rect x="282.00" y="341.23" width="3.65" height="41.52" fill="#28addf"/>
<rect x="282.00" y="382.75" width="3.65" height="5.77" fill="#f7dc33"/>
<rect x="282.00" y="388.52" width="3.65" height="6.08" fill="#f7a021"/>
<rect x="285.60" y="271.54" width="3.65" height="2.08" fill="#f7dc33"/>
<rect x="285.60" y="273.61" width="3.65" height="5.77" fill="#f6bddb"/>
<rect x="285.60" y="279.38" width="3.65" height="47.29" fill="#f47d20"/>
<rect x="285.60" y="326.67" width="3.65" height="6.33" fill="#0e9c77"/>
<rect x="285.60" y="333.00" width="3.65" height="19.76" fill="#1b88cc"/>
<rect x="285.60" y="352.76" width="3.65" height="25.37" fill="#28addf"/>
<rect x="285.60" y="378.14" width="3.65" height="6.92" fill="#f47d20"/>
<rect x="285.60" y="385.06" width="3.65" height="9.54" fill="#1b88cc"/>
<rect x="289.20" y="271.54" width="3.65" height="4.38" fill="#f7dc33"/>
<rect x="289.20" y="275.92" width="3.65" height="12.69" fill="#aca3ad"/>
<rect x="289.20" y="288.61" width="3.65" height="2.31" fill="#f47d20"/>
<rect x="289.20" y="290.91" width="3.65" height="42.09" fill="#1b88cc"/>
<rect x="289.20" y="333.00" width="3.65" height="61.60" fill="#1b88cc"/>
<rect x="292.80" y="271.54" width="3.65" height="61.46" fill="#0e9c77"/>
<rect x="292.80" y="333.00" width="3.65" height="52.06" fill="#0e9c77"/>
<rect x="292.80" y="385.06" width="3.65" height="4.61" fill="#f7a021"/>
<rect x="292.80" y="389.67" width="3.65" height="4.93" fill="#0e9c77"/>
<rect x="296.40" y="271.54" width="3.65" height="61.46" fill="#0e9c77"/>
<rect x="296.40" y="333.00" width="3.65" height="61.60" fill="#0e9c77"/>
<rect x="300.00" y="271.54" width="3.65" height="61.46" fill="#0e9c77"/>
<rect x="300.00" y="333.00" width="3.65" height="61.60" fill="#1b88cc"/>
<rect x="303.60" y="271.54" width="3.65" height="9.00" fill="#28addf"/>
<rect x="303.60" y="280.53" width="3.65" height="5.77" fill="#f7dc33"/>
<rect x="303.60" y="286.30" width="3.65" height="7.50" fill="#f47d20"/>
<rect x="303.60" y="293.80" width="3.65" height="8.65" fill="#1b88cc"/>
<rect x="303.60" y="302.45" width="3.65" height="2.31" fill="#f7a021"/>
<rect x="303.60" y="304.76" width="3.65" height="4.61" fill="#1b88cc"/>
<rect x="303.60" y="309.37" width="3.65" height="4.61" fill="#f7dc33"/>
<rect x="303.60" y="313.98" width="3.65" height="4.61" fill="#aca3ad"/>
<rect x="303.60" y="318.60" width="3.65" height="14.40" fill="#f47d20"/>
<rect x="303.60" y="333.00" width="3.65" height="20.91" fill="#f47d20"/>
<rect x="303.60" y="353.91" width="3.65" height="10.38" fill="#f7dc33"/>
<rect x="303.60" y="364.30" width="3.65" height="30.30" fill="#1b88cc"/>
<rect x="307.20" y="271.54" width="3.65" height="22.84" fill="#1b88cc"/>
<rect x="307.20" y="294.37" width="3.65" height="2.31" fill="#f6bddb"/>
<rect x="307.20" y="296.68" width="3.65" height="36.32" fill="#df8cc8"/>
<rect x="307.20" y="333.00" width="3.65" height="45.14" fill="#df8cc8"/>
<rect x="307.20" y="378.14" width="3.65" height="16.46" fill="#0e9c77"/>
<rect x="310.80" y="271.54" width="3.65" height="23.99" fill="#1b88cc"/>
<rect x="310.80" y="295.53" width="3.65" height="37.47" fill="#0e9c77"/>
<rect x="310.80" y="333.00" width="3.65" height="5.92" fill="#0e9c77"/>
<rect x="310.80" y="338.92" width="3.65" height="31.14" fill="#f7a021"/>
<rect x="310.80" y="370.06" width="3.65" height="24.54" fill="#0e9c77"/>
<rect x="314.40" y="271.54" width="3.65" height="5.54" fill="#f7dc33"/>
<rect x="314.40" y="277.07" width="3.65" height="23.07" fill="#1b88cc"/>
<rect x="314.40" y="300.14" width="3.65" height="16.15" fill="#f7dc33"/>
<rect x="314.40" y="316.29" width="3.65" height="11.53" fill="#df8cc8"/>
<rect x="314.40" y="327.82" width="3.65" height="5.18" fill="#f47d20"/>
<rect x="314.40" y="333.00" width="3.65" height="5.92" fill="#0e9c77"/>
<rect x="314.40" y="338.92" width="3.65" height="55.68" fill="#1b88cc"/>
<rect x="318.00" y="271.54" width="3.65" height="7.84" fill="#f7dc33"/>
<rect x="318.00" y="279.38" width="3.65" height="19.61" fill="#f47d20"/>
<rect x="318.00" y="298.99" width="3.65" height="34.01" fill="#0e9c77"/>
<rect x="318.00" y="333.00" width="3.65" height="7.07" fill="#0e9c77"/>
<rect x="318.00" y="340.07" width="3.65" height="43.83" fill="#28addf"/>
<rect x="318.00" y="383.90" width="3.65" height="4.61" fill="#f7dc33"/>
<rect x="318.00" y="388.52" width="3.65" height="6.08" fill="#f47d20"/>
<rect x="321.60" y="271.54" width="3.65" height="14.76" fill="#f7dc33"/>
<rect x="321.60" y="286.30" width="3.65" height="31.14" fill="#aca3ad"/>
<rect x="321.60" y="317.44" width="3.65" height="15.56" fill="#df8cc8"/>
<rect x="321.60" y="333.00" width="3.65" height="1.31" fill="#df8cc8"/>
<rect x="321.60" y="334.31" width="3.65" height="24.22" fill="#f7dc33"/>
<rect x="321.60" y="358.53" width="3.65" height="11.53" fill="#df8cc8"/>
<rect x="321.60" y="370.06" width="3.65" height="24.54" fill="#f7a021"/>
<rect x="325.20" y="271.54" width="3.65" height="45.91" fill="#f7dc33"/>
<rect x="325.20" y="317.44" width="3.65" height="15.56" fill="#1b88cc"/>
<rect x="325.20" y="333.00" width="3.65" height="61.60" fill="#1b88cc"/>
<rect x="328.80" y="271.54" width="3.65" height="6.69" fill="#df8cc8"/>
<rect x="328.80" y="278.23" width="3.65" height="10.38" fill="#1b88cc"/>
<rect x="328.80" y="288.61" width="3.65" height="20.76" fill="#f7dc33"/>
<rect x="328.80" y="309.37" width="3.65" height="23.63" fill="#f47d20"/>
<rect x="328.80" y="333.00" width="3.65" height="5.92" fill="#f47d20"/>
<rect x="328.80" y="338.92" width="3.65" height="9.23" fill="#f7a021"/>
<rect x="328.80" y="348.15" width="3.65" height="46.45" fill="#1b88cc"/>
<rect x="332.40" y="271.54" width="3.65" height="12.46" fill="#df8cc8"/>
<rect x="332.40" y="283.99" width="3.65" height="8.07" fill="#f7dc33"/>
<rect x="332.40" y="292.07" width="3.65" height="40.93" fill="#f6bddb"/>
<rect x="332.40" y="333.00" width="3.65" height="28.99" fill="#df8cc8"/>
<rect x="332.40" y="361.99" width="3.65" height="32.61" fill="#f7a021"/>
<rect x="336.00" y="271.54" width="3.65" height="12.46" fill="#f7dc33"/>
<rect x="336.00" y="283.99" width="3.65" height="49.01" fill="#f47d20"/>
<rect x="336.00" y="333.00" width="3.65" height="46.29" fill="#f47d20"/>
<rect x="336.00" y="379.29" width="3.65" height="15.31" fill="#1b88cc"/>
<rect x="339.60" y="271.54" width="3.65" height="5.54" fill="#f7dc33"/>
<rect x="339.60" y="277.07" width="3.65" height="8.07" fill="#1b88cc"/>
<rect x="339.60" y="285.15" width="3.65" height="3.46" fill="#f7dc33"/>
<rect x="339.60" y="288.61" width="3.65" height="44.39" fill="#f47d20"/>
<rect x="339.60" y="333.00" width="3.65" height="50.90" fill="#f47d20"/>
<rect x="339.60" y="383.90" width="3.65" height="10.70" fill="#1b88cc"/>
<rect x="343.20" y="271.54" width="3.65" height="15.92" fill="#f47d20"/>
<rect x="343.20" y="287.45" width="3.65" height="16.15" fill="#0e9c77"/>
<rect x="343.20" y="303.60" width="3.65" height="29.40" fill="#f7a021"/>
<rect x="343.20" y="333.00" width="3.65" height="61.60" fill="#f7a021"/>
<rect x="346.80" y="271.54" width="3.65" height="36.68" fill="#df8cc8"/>
<rect x="346.80" y="308.22" width="3.65" height="8.07" fill="#0e9c77"/>
<rect x="346.80" y="316.29" width="3.65" height="16.71" fill="#f7a021"/>
<rect x="346.80" y="333.00" width="3.65" height="58.98" fill="#f7a021"/>
<rect x="346.80" y="391.98" width="3.65" height="2.62" fill="#1b88cc"/>
<rect x="350.40" y="271.54" width="3.65" height="61.46" fill="#1b88cc"/>
<rect x="350.40" y="333.00" width="3.65" height="61.60" fill="#1b88cc"/>
<rect x="354.00" y="271.54" width="3.65" height="14.76" fill="#f47d20"/>
<rect x="354.00" y="286.30" width="3.65" height="46.70" fill="#28addf"/>
<rect x="354.00" y="333.00" width="3.65" height="55.52" fill="#28addf"/>
<rect x="354.00" y="388.52" width="3.65" height="6.08" fill="#f7a021"/>
<rect x="357.60" y="271.54" width="3.65" height="35.52" fill="#df8cc8"/>
<rect x="357.60" y="307.06" width="3.65" height="25.94" fill="#f7a021"/>
<rect x="357.60" y="333.00" width="3.65" height="61.60" fill="#f7a021"/>
<rect x="361.20" y="271.54" width="3.65" height="6.69" fill="#f7dc33"/>
<rect x="361.20" y="278.23" width="3.65" height="23.07" fill="#f47d20"/>
<rect x="361.20" y="301.30" width="3.65" height="10.38" fill="#28addf"/>
<rect x="361.20" y="311.68" width="3.65" height="21.32" fill="#f7dc33"/>
<rect x="361.20" y="333.00" width="3.65" height="26.68" fill="#f7dc33"/>
<rect x="361.20" y="359.68" width="3.65" height="34.92" fill="#f47d20"/>
<rect x="364.80" y="271.54" width="3.65" height="35.52" fill="#f47d20"/>
<rect x="364.80" y="307.06" width="3.65" height="25.94" fill="#aca3ad"/>
<rect x="364.80" y="333.00" width="3.65" height="3.61" fill="#aca3ad"/>
<rect x="364.80" y="336.61" width="3.65" height="24.22" fill="#f7a021"/>
<rect x="364.80" y="360.84" width="3.65" height="25.37" fill="#ec9f88"/>
<rect x="364.80" y="386.21" width="3.65" height="8.39" fill="#0e9c77"/>
<rect x="368.40" y="271.54" width="3.65" height="4.38" fill="#df8cc8"/>
<rect x="368.40" y="275.92" width="3.65" height="16.15" fill="#1b88cc"/>
<rect x="368.40" y="292.07" width="3.65" height="16.15" fill="#f7dc33"/>
<rect x="368.40" y="308.22" width="3.65" height="24.78" fill="#f47d20"/>
<rect x="368.40" y="333.00" width="3.65" height="9.38" fill="#f7a021"/>
<rect x="368.40" y="342.38" width="3.65" height="52.22" fill="#1b88cc"/>
<rect x="372.00" y="271.54" width="3.65" height="6.69" fill="#1b88cc"/>
<rect x="372.00" y="278.23" width="3.65" height="16.15" fill="#f7dc33"/>
<rect x="372.00" y="294.37" width="3.65" height="38.63" fill="#f47d20"/>
<rect x="372.00" y="333.00" width="3.65" height="47.44" fill="#f47d20"/>
<rect x="372.00" y="380.44" width="3.65" height="14.16" fill="#1b88cc"/>
<rect x="375.60" y="271.54" width="3.65" height="6.69" fill="#1b88cc"/>
<rect x="375.60" y="278.23" width="3.65" height="11.53" fill="#f7dc33"/>
<rect x="375.60" y="289.76" width="3.65" height="6.92" fill="#f7a021"/>
<rect x="375.60" y="296.68" width="3.65" height="4.61" fill="#df8cc8"/>
<rect x="375.60" y="301.30" width="3.65" height="31.70" fill="#f47d20"/>
<rect x="375.60" y="333.00" width="3.65" height="38.22" fill="#f47d20"/>
<rect x="375.60" y="371.22" width="3.65" height="10.38" fill="#f7a021"/>
<rect x="375.60" y="381.60" width="3.65" height="13.00" fill="#1b88cc"/>
<rect x="379.20" y="271.54" width="3.65" height="6.69" fill="#f7dc33"/>
<rect x="379.20" y="278.23" width="3.65" height="9.23" fill="#f47d20"/>
<rect x="379.20" y="287.45" width="3.65" height="6.92" fill="#1b88cc"/>
<rect x="379.20" y="294.37" width="3.65" height="13.84" fill="#28addf"/>
<rect x="379.20" y="308.22" width="3.65" height="17.30" fill="#f7dc33"/>
<rect x="379.20" y="325.52" width="3.65" height="2.31" fill="#f47d20"/>
<rect x="379.20" y="327.82" width="3.65" height="5.18" fill="#1b88cc"/>
<rect x="379.20" y="333.00" width="3.65" height="61.60" fill="#1b88cc"/>
<rect x="382.80" y="271.54" width="3.65" height="61.46" fill="#df8cc8"/>
<rect x="382.80" y="333.00" width="3.65" height="61.60" fill="#df8cc8"/>
<rect x="386.40" y="271.54" width="3.65" height="61.46" fill="#f7a021"/>
<rect x="386.40" y="333.00" width="3.65" height="34.76" fill="#f7a021"/>
<rect x="386.40" y="367.76" width="3.65" height="9.23" fill="#f7dc33"/>
<rect x="386.40" y="376.98" width="3.65" height="2.31" fill="#f47d20"/>
<rect x="386.40" y="379.29" width="3.65" height="15.31" fill="#1b88cc"/>
<rect x="390.00" y="271.54" width="3.65" height="61.46" fill="#f6bddb"/>
<rect x="390.00" y="333.00" width="3.65" height="61.60" fill="#f6bddb"/>
<rect x="393.60" y="271.54" width="3.65" height="7.84" fill="#f7dc33"/>
<rect x="393.60" y="279.38" width="3.65" height="16.15" fill="#f47d20"/>
<rect x="393.60" y="295.53" width="3.65" height="37.47" fill="#1b88cc"/>
<rect x="393.60" y="333.00" width="3.65" height="61.60" fill="#1b88cc"/>
<rect x="397.20" y="271.54" width="3.65" height="3.23" fill="#28addf"/>
<rect x="397.20" y="274.77" width="3.65" height="4.61" fill="#f47d20"/>
<rect x="397.20" y="279.38" width="3.65" height="12.69" fill="#0e9c77"/>
<rect x="397.20" y="292.07" width="3.65" height="3.46" fill="#ec9f88"/>
<rect x="397.20" y="295.53" width="3.65" height="8.07" fill="#f47d20"/>
<rect x="397.20" y="303.60" width="3.65" height="29.40" fill="#1b88cc"/>
<rect x="397.20" y="333.00" width="3.65" height="61.60" fill="#1b88cc"/>
<rect x="400.80" y="271.54" width="3.65" height="61.46" fill="#df8cc8"/>
<rect x="400.80" y="333.00" width="3.65" height="57.82" fill="#df8cc8"/>
<rect x="400.80" y="390.82" width="3.65" height="3.78" fill="#1b88cc"/>
<rect x="404.40" y="271.54" width="3.65" height="61.46" fill="#df8cc8"/>
<rect x="404.40" y="333.00" width="3.65" height="18.61" fill="#df8cc8"/>
<rect x="404.40" y="351.61" width="3.65" height="42.99" fill="#0e9c77"/>
<rect x="408.00" y="271.54" width="3.65" height="61.46" fill="#0e9c77"/>
<rect x="408.00" y="333.00" width="3.65" height="61.60" fill="#0e9c77"/>
<rect x="411.60" y="271.54" width="3.65" height="61.46" fill="#df8cc8"/>
<rect x="411.60" y="333.00" width="3.65" height="50.90" fill="#df8cc8"/>
<rect x="411.60" y="383.90" width="3.65" height="5.77" fill="#f7a021"/>
<rect x="411.60" y="389.67" width="3.65" height="4.93" fill="#1b88cc"/>
<rect x="415.20" y="271.54" width="3.65" height="61.46" fill="#df8cc8"/>
<rect x="415.20" y="333.00" width="3.65" height="22.07" fill="#df8cc8"/>
<rect x="415.20" y="355.07" width="3.65" height="39.53" fill="#f7a021"/>
<rect x="418.80" y="271.54" width="3.65" height="61.46" fill="#0e9c77"/>
<rect x="418.80" y="333.00" width="3.65" height="61.60" fill="#0e9c77"/>
<rect x="422.40" y="271.54" width="3.65" height="61.46" fill="#df8cc8"/>
<rect x="422.40" y="333.00" width="3.65" height="56.67" fill="#df8cc8"/>
<rect x="422.40" y="389.67" width="3.65" height="4.93" fill="#0e9c77"/>
<rect x="426.00" y="271.54" width="3.65" height="4.38" fill="#28addf"/>
<rect x="426.00" y="275.92" width="3.65" height="10.38" fill="#f47d20"/>
<rect x="426.00" y="286.30" width="3.65" height="12.69" fill="#0e9c77"/>
<rect x="426.00" y="298.99" width="3.65" height="2.31" fill="#ec9f88"/>
<rect x="426.00" y="301.30" width="3.65" height="14.99" fill="#f47d20"/>
<rect x="426.00" y="316.29" width="3.65" height="16.71" fill="#1b88cc"/>
<rect x="426.00" y="333.00" width="3.65" height="61.60" fill="#1b88cc"/>
<rect x="429.60" y="271.54" width="3.65" height="61.46" fill="#f6bddb"/>
<rect x="429.60" y="333.00" width="3.65" height="55.52" fill="#f6bddb"/>
<rect x="429.60" y="388.52" width="3.65" height="6.08" fill="#f7a021"/>
</g>
<rect x="210.00" y="394.60" width="223.20" height="1.60" fill="#e3f4fa" />
<line x1="208.70" y1="268.50" x2="208.70" y2="399.20" stroke="#444" stroke-width="0.8" />
<line x1="205.50" y1="394.60" x2="208.70" y2="394.60" stroke="#444" stroke-width="0.8" />
<text x="201.40" y="396.60" font-size="5.6" text-anchor="end" fill="#444" stroke="#444" stroke-width="0.15">0</text>
<line x1="205.50" y1="369.92" x2="208.70" y2="369.92" stroke="#444" stroke-width="0.8" />
<text x="201.40" y="371.92" font-size="5.6" text-anchor="end" fill="#444" stroke="#444" stroke-width="0.15">20</text>
<line x1="205.50" y1="345.24" x2="208.70" y2="345.24" stroke="#444" stroke-width="0.8" />
<text x="201.40" y="347.24" font-size="5.6" text-anchor="end" fill="#444" stroke="#444" stroke-width="0.15">40</text>
<line x1="205.50" y1="320.56" x2="208.70" y2="320.56" stroke="#444" stroke-width="0.8" />
<text x="201.40" y="322.56" font-size="5.6" text-anchor="end" fill="#444" stroke="#444" stroke-width="0.15">60</text>
<line x1="205.50" y1="295.88" x2="208.70" y2="295.88" stroke="#444" stroke-width="0.8" />
<text x="201.40" y="297.88" font-size="5.6" text-anchor="end" fill="#444" stroke="#444" stroke-width="0.15">80</text>
<line x1="205.50" y1="271.20" x2="208.70" y2="271.20" stroke="#444" stroke-width="0.8" />
<text x="201.40" y="273.20" font-size="5.6" text-anchor="end" fill="#444" stroke="#444" stroke-width="0.15">100</text>
<text x="0" y="0" font-size="8.2" text-anchor="middle" fill="#404040" stroke="#404040" stroke-width="0.15" textLength="72.00" lengthAdjust="spacingAndGlyphs" transform="translate(186.60 333.00) rotate(-90)">Relative abundance (%)</text>
<text x="172.60" y="245.50" font-size="11.3" fill="#111" stroke="#111" stroke-width="0.35" font-weight="bold">I</text>
<path d="M210.2 269.6 V266.4 H320.8 V269.6" fill="none" stroke="#555" stroke-width="0.8"/>
<path d="M322.3 269.6 V266.4 H433.5 V269.6" fill="none" stroke="#555" stroke-width="0.8"/>
<text x="253.00" y="262.30" font-size="7.0" stroke="#404040" stroke-width="0.15" textLength="23.00" lengthAdjust="spacingAndGlyphs">Pre-HCT</text>
<text x="364.00" y="262.60" font-size="7.0" stroke="#404040" stroke-width="0.15" textLength="27.70" lengthAdjust="spacingAndGlyphs">Post-HCT</text>
<path d="M208.7 399.2 H433.8 M263.5 399.2 V397.0 M320.2 399.2 V397.0 M321.4 399.2 V397.0 M376.2 399.2 V397.0 M433.8 399.2 V397.0" fill="none" stroke="#555" stroke-width="0.8"/>
<text x="219.00" y="408.80" font-size="6.5" stroke="#404040" stroke-width="0.15" textLength="34.50" lengthAdjust="spacingAndGlyphs">non cGVHD</text>
<text x="282.00" y="408.80" font-size="6.5" stroke="#404040" stroke-width="0.15" textLength="21.80" lengthAdjust="spacingAndGlyphs">cGVHD</text>
<text x="332.00" y="408.90" font-size="6.5" stroke="#404040" stroke-width="0.15" textLength="34.30" lengthAdjust="spacingAndGlyphs">non cGVHD</text>
<text x="395.00" y="408.90" font-size="6.5" stroke="#404040" stroke-width="0.15" textLength="21.30" lengthAdjust="spacingAndGlyphs">cGVHD</text>
<text x="445.20" y="272.90" font-size="6.4" stroke="#404040" stroke-width="0.15" textLength="39.80" lengthAdjust="spacingAndGlyphs">Bacterial Taxa</text>
<rect x="437.9" y="275.30" width="8.0" height="3.0" rx="0.7" fill="#1f6fb2"/>
<text x="449.00" y="279.10" font-size="6.5" stroke="#404040" stroke-width="0.15" textLength="51.77" lengthAdjust="spacingAndGlyphs">Streptococcaceae</text>
<rect x="437.9" y="281.38" width="8.0" height="3.0" rx="0.7" fill="#f59b1f"/>
<text x="449.00" y="285.18" font-size="6.5" stroke="#404040" stroke-width="0.15" textLength="48.18" lengthAdjust="spacingAndGlyphs">Lactobacillaceae</text>
<rect x="437.9" y="287.46" width="8.0" height="3.0" rx="0.7" fill="#15906f"/>
<text x="449.00" y="291.26" font-size="6.5" stroke="#404040" stroke-width="0.15" textLength="56.08" lengthAdjust="spacingAndGlyphs">Enterobacteriaceae</text>
<rect x="437.9" y="293.54" width="8.0" height="3.0" rx="0.7" fill="#db6a28"/>
<text x="449.00" y="297.34" font-size="6.5" stroke="#404040" stroke-width="0.15" textLength="46.73" lengthAdjust="spacingAndGlyphs">Micrococcaceae</text>
<rect x="437.9" y="299.62" width="8.0" height="3.0" rx="0.7" fill="#d47ec6"/>
<text x="449.00" y="303.42" font-size="6.5" stroke="#404040" stroke-width="0.15" textLength="56.09" lengthAdjust="spacingAndGlyphs">Staphylococcaceae</text>
<rect x="437.9" y="305.70" width="8.0" height="3.0" rx="0.7" fill="#d9a08b"/>
<text x="449.00" y="309.50" font-size="6.5" stroke="#404040" stroke-width="0.15" textLength="60.75" lengthAdjust="spacingAndGlyphs">Verrucomicrobiaceae</text>
<rect x="437.9" y="311.78" width="8.0" height="3.0" rx="0.7" fill="#f1bcd8"/>
<text x="449.00" y="315.58" font-size="6.5" stroke="#404040" stroke-width="0.15" textLength="57.89" lengthAdjust="spacingAndGlyphs">Xanthomonadaceae</text>
<rect x="437.9" y="317.86" width="8.0" height="3.0" rx="0.7" fill="#a99cab"/>
<text x="449.00" y="321.66" font-size="6.5" stroke="#404040" stroke-width="0.15" textLength="38.10" lengthAdjust="spacingAndGlyphs">Gemellaceae</text>
<rect x="437.9" y="323.94" width="8.0" height="3.0" rx="0.7" fill="#f2d22c"/>
<text x="449.00" y="327.74" font-size="6.5" stroke="#404040" stroke-width="0.15" textLength="54.64" lengthAdjust="spacingAndGlyphs">Carnobacteriaceae</text>
<rect x="437.9" y="330.02" width="8.0" height="3.0" rx="0.7" fill="#2ba4d7"/>
<text x="449.00" y="333.82" font-size="6.5" stroke="#404040" stroke-width="0.15" textLength="42.78" lengthAdjust="spacingAndGlyphs">Prevotellaceae</text>
<rect x="437.9" y="336.10" width="8.0" height="3.0" rx="0.7" fill="#1f6fb2"/>
<text x="449.00" y="339.90" font-size="6.5" stroke="#404040" stroke-width="0.15" textLength="50.33" lengthAdjust="spacingAndGlyphs">Burkholderiaceae</text>
<rect x="437.9" y="342.18" width="8.0" height="3.0" rx="0.7" fill="#f59b1f"/>
<text x="449.00" y="345.98" font-size="6.5" stroke="#404040" stroke-width="0.15" textLength="46.38" lengthAdjust="spacingAndGlyphs">Pasteurellaceae</text>
<rect x="437.9" y="348.26" width="8.0" height="3.0" rx="0.7" fill="#15906f"/>
<text x="449.00" y="352.06" font-size="6.5" stroke="#404040" stroke-width="0.15" textLength="49.97" lengthAdjust="spacingAndGlyphs">Enterococcaceae</text>
<rect x="437.9" y="354.34" width="8.0" height="3.0" rx="0.7" fill="#db6a28"/>
<text x="449.00" y="358.14" font-size="6.5" stroke="#404040" stroke-width="0.15" textLength="43.15" lengthAdjust="spacingAndGlyphs">Veillonellaceae</text>
<rect x="437.9" y="360.42" width="8.0" height="3.0" rx="0.7" fill="#d47ec6"/>
<text x="449.00" y="364.22" font-size="6.5" stroke="#404040" stroke-width="0.15" textLength="59.33" lengthAdjust="spacingAndGlyphs">Pseudomonadaceae</text>
<rect x="437.9" y="366.50" width="8.0" height="3.0" rx="0.7" fill="#d9a08b"/>
<text x="449.00" y="370.30" font-size="6.5" stroke="#404040" stroke-width="0.15" textLength="63.63" lengthAdjust="spacingAndGlyphs">Porphyromonadaceae</text>
<rect x="437.9" y="372.58" width="8.0" height="3.0" rx="0.7" fill="#f1bcd8"/>
<text x="449.00" y="376.38" font-size="6.5" stroke="#404040" stroke-width="0.15" textLength="40.98" lengthAdjust="spacingAndGlyphs">Neisseriaceae</text>
<rect x="437.9" y="378.66" width="8.0" height="3.0" rx="0.7" fill="#a99cab"/>
<text x="449.00" y="382.46" font-size="6.5" stroke="#404040" stroke-width="0.15" textLength="44.58" lengthAdjust="spacingAndGlyphs">Aerococcaceae</text>
<rect x="437.9" y="384.74" width="8.0" height="3.0" rx="0.7" fill="#f2d22c"/>
<text x="449.00" y="388.54" font-size="6.5" stroke="#404040" stroke-width="0.15" textLength="52.84" lengthAdjust="spacingAndGlyphs">Actinomycetaceae</text>
<rect x="437.9" y="390.82" width="8.0" height="3.0" rx="0.7" fill="#2ba4d7"/>
<text x="449.00" y="394.62" font-size="6.5" stroke="#404040" stroke-width="0.15" textLength="52.84" lengthAdjust="spacingAndGlyphs">Flavobacteriaceae</text>
<rect x="437.9" y="396.90" width="8.0" height="3.0" rx="0.7" fill="#1f6fb2"/>
<text x="449.00" y="400.70" font-size="6.5" stroke="#404040" stroke-width="0.15" textLength="54.64" lengthAdjust="spacingAndGlyphs">Comamonadaceae</text>
<!--J-->
<text x="7.00" y="442.50" font-size="11.3" fill="#111" stroke="#111" stroke-width="0.35" font-weight="bold">J</text>
<text x="85.00" y="447.60" font-size="8.6" stroke="#404040" stroke-width="0.15" textLength="31.90" lengthAdjust="spacingAndGlyphs">pre-HCT</text>
<line x1="104.00" y1="452.70" x2="104.00" y2="532.20" stroke="#ddd" stroke-width="0.6" />
<line x1="46.70" y1="497.20" x2="155.20" y2="497.20" stroke="#ddd" stroke-width="0.6" />
<rect x="46.70" y="452.70" width="108.50" height="79.50" fill="none" stroke="#222" stroke-width="0.9"/>
<line x1="43.90" y1="461.02" x2="46.70" y2="461.02" stroke="#222" stroke-width="0.8" />
<text x="41.30" y="463.22" font-size="6.4" text-anchor="end" fill="#444" stroke="#444" stroke-width="0.15">0.6</text>
<line x1="43.90" y1="473.08" x2="46.70" y2="473.08" stroke="#222" stroke-width="0.8" />
<text x="41.30" y="475.28" font-size="6.4" text-anchor="end" fill="#444" stroke="#444" stroke-width="0.15">0.4</text>
<line x1="43.90" y1="485.14" x2="46.70" y2="485.14" stroke="#222" stroke-width="0.8" />
<text x="41.30" y="487.34" font-size="6.4" text-anchor="end" fill="#444" stroke="#444" stroke-width="0.15">0.2</text>
<line x1="43.90" y1="497.20" x2="46.70" y2="497.20" stroke="#222" stroke-width="0.8" />
<text x="41.30" y="499.40" font-size="6.4" text-anchor="end" fill="#444" stroke="#444" stroke-width="0.15">0.0</text>
<line x1="43.90" y1="509.26" x2="46.70" y2="509.26" stroke="#222" stroke-width="0.8" />
<text x="41.30" y="511.46" font-size="6.4" text-anchor="end" fill="#444" stroke="#444" stroke-width="0.15">−0.2</text>
<line x1="43.90" y1="521.32" x2="46.70" y2="521.32" stroke="#222" stroke-width="0.8" />
<text x="41.30" y="523.52" font-size="6.4" text-anchor="end" fill="#444" stroke="#444" stroke-width="0.15">−0.4</text>
<line x1="57.50" y1="532.20" x2="57.50" y2="534.80" stroke="#222" stroke-width="0.8" />
<text x="55.70" y="543.80" font-size="6.4" text-anchor="middle" fill="#444" stroke="#444" stroke-width="0.15">−0.6</text>
<line x1="73.00" y1="532.20" x2="73.00" y2="534.80" stroke="#222" stroke-width="0.8" />
<text x="71.20" y="543.80" font-size="6.4" text-anchor="middle" fill="#444" stroke="#444" stroke-width="0.15">−0.4</text>
<line x1="88.50" y1="532.20" x2="88.50" y2="534.80" stroke="#222" stroke-width="0.8" />
<text x="86.70" y="543.80" font-size="6.4" text-anchor="middle" fill="#444" stroke="#444" stroke-width="0.15">−0.2</text>
<line x1="104.00" y1="532.20" x2="104.00" y2="534.80" stroke="#222" stroke-width="0.8" />
<text x="104.00" y="543.80" font-size="6.4" text-anchor="middle" fill="#444" stroke="#444" stroke-width="0.15">0.0</text>
<line x1="119.50" y1="532.20" x2="119.50" y2="534.80" stroke="#222" stroke-width="0.8" />
<text x="119.50" y="543.80" font-size="6.4" text-anchor="middle" fill="#444" stroke="#444" stroke-width="0.15">0.2</text>
<line x1="135.00" y1="532.20" x2="135.00" y2="534.80" stroke="#222" stroke-width="0.8" />
<text x="135.00" y="543.80" font-size="6.4" text-anchor="middle" fill="#444" stroke="#444" stroke-width="0.15">0.4</text>
<line x1="150.50" y1="532.20" x2="150.50" y2="534.80" stroke="#222" stroke-width="0.8" />
<text x="150.50" y="543.80" font-size="6.4" text-anchor="middle" fill="#444" stroke="#444" stroke-width="0.15">0.6</text>
<text x="0" y="0" font-size="8.4" text-anchor="middle" fill="#404040" stroke="#404040" stroke-width="0.15" textLength="42.10" lengthAdjust="spacingAndGlyphs" transform="translate(23.80 492.30) rotate(-90)">PC2 (21.35%)</text>
<text x="80.60" y="557.00" font-size="9.0" stroke="#404040" stroke-width="0.15" textLength="41.40" lengthAdjust="spacingAndGlyphs">PC1 (34.73%)</text>
<rect x="52.40" y="455.90" width="2.8" height="2.8" fill="#1c3a6a"/>
<text x="58.50" y="459.70" font-size="6.8" stroke="#404040" stroke-width="0.15" textLength="33.90" lengthAdjust="spacingAndGlyphs">non cGVHD</text>
<circle cx="53.80" cy="465.00" r="1.5" fill="#f0a02e"/>
<text x="58.50" y="467.40" font-size="6.8" stroke="#404040" stroke-width="0.15" textLength="21.70" lengthAdjust="spacingAndGlyphs">cGVHD</text>
<text x="131.00" y="527.30" font-size="6.7" stroke="#404040" stroke-width="0.15" textLength="21.00" lengthAdjust="spacingAndGlyphs"><tspan font-style="italic">P</tspan> = .76</text>
<circle cx="141.50" cy="470.30" r="1.7" fill="#f0a02e"/>
<circle cx="52.00" cy="486.90" r="1.7" fill="#f0a02e"/>
<circle cx="59.60" cy="490.40" r="1.7" fill="#f0a02e"/>
<circle cx="61.50" cy="492.00" r="1.7" fill="#f0a02e"/>
<circle cx="66.00" cy="492.00" r="1.7" fill="#f0a02e"/>
<circle cx="91.20" cy="500.80" r="1.7" fill="#f0a02e"/>
<circle cx="96.50" cy="502.60" r="1.7" fill="#f0a02e"/>
<circle cx="107.00" cy="502.60" r="1.7" fill="#f0a02e"/>
<circle cx="107.40" cy="504.20" r="1.7" fill="#f0a02e"/>
<circle cx="109.20" cy="504.50" r="1.7" fill="#f0a02e"/>
<circle cx="119.60" cy="506.00" r="1.7" fill="#f0a02e"/>
<circle cx="120.80" cy="507.70" r="1.7" fill="#f0a02e"/>
<circle cx="122.40" cy="507.20" r="1.7" fill="#f0a02e"/>
<circle cx="118.50" cy="526.20" r="1.7" fill="#f0a02e"/>
<circle cx="123.00" cy="529.00" r="1.7" fill="#f0a02e"/>
<rect x="144.70" y="457.70" width="3.0" height="3.0" fill="#1c3a6a"/>
<rect x="148.80" y="454.70" width="3.0" height="3.0" fill="#1c3a6a"/>
<rect x="120.70" y="472.50" width="3.0" height="3.0" fill="#1c3a6a"/>
<rect x="83.70" y="473.90" width="3.0" height="3.0" fill="#1c3a6a"/>
<rect x="51.90" y="485.40" width="3.0" height="3.0" fill="#1c3a6a"/>
<rect x="59.30" y="488.20" width="3.0" height="3.0" fill="#1c3a6a"/>
<rect x="84.20" y="496.00" width="3.0" height="3.0" fill="#1c3a6a"/>
<rect x="87.00" y="497.00" width="3.0" height="3.0" fill="#1c3a6a"/>
<rect x="100.30" y="500.70" width="3.0" height="3.0" fill="#1c3a6a"/>
<rect x="111.50" y="506.70" width="3.0" height="3.0" fill="#1c3a6a"/>
<rect x="113.00" y="508.00" width="3.0" height="3.0" fill="#1c3a6a"/>
<rect x="115.10" y="509.20" width="3.0" height="3.0" fill="#1c3a6a"/>
<rect x="118.80" y="509.00" width="3.0" height="3.0" fill="#1c3a6a"/>
<rect x="126.20" y="498.80" width="3.0" height="3.0" fill="#1c3a6a"/>
<rect x="127.30" y="496.30" width="3.0" height="3.0" fill="#1c3a6a"/>
<text x="235.60" y="448.00" font-size="8.6" stroke="#404040" stroke-width="0.15" textLength="37.80" lengthAdjust="spacingAndGlyphs">post-HCT</text>
<line x1="244.20" y1="452.70" x2="244.20" y2="532.40" stroke="#ddd" stroke-width="0.6" />
<line x1="200.80" y1="487.20" x2="308.90" y2="487.20" stroke="#ddd" stroke-width="0.6" />
<rect x="200.80" y="452.70" width="108.10" height="79.70" fill="none" stroke="#222" stroke-width="0.9"/>
<line x1="198.00" y1="463.80" x2="200.80" y2="463.80" stroke="#222" stroke-width="0.8" />
<text x="195.00" y="466.00" font-size="6.4" text-anchor="end" fill="#444" stroke="#444" stroke-width="0.15">0.4</text>
<line x1="198.00" y1="475.50" x2="200.80" y2="475.50" stroke="#222" stroke-width="0.8" />
<text x="195.00" y="477.70" font-size="6.4" text-anchor="end" fill="#444" stroke="#444" stroke-width="0.15">0.2</text>
<line x1="198.00" y1="487.20" x2="200.80" y2="487.20" stroke="#222" stroke-width="0.8" />
<text x="195.00" y="489.40" font-size="6.4" text-anchor="end" fill="#444" stroke="#444" stroke-width="0.15">0.0</text>
<line x1="198.00" y1="498.90" x2="200.80" y2="498.90" stroke="#222" stroke-width="0.8" />
<text x="195.00" y="501.10" font-size="6.4" text-anchor="end" fill="#444" stroke="#444" stroke-width="0.15">−0.2</text>
<line x1="198.00" y1="510.60" x2="200.80" y2="510.60" stroke="#222" stroke-width="0.8" />
<text x="195.00" y="512.80" font-size="6.4" text-anchor="end" fill="#444" stroke="#444" stroke-width="0.15">−0.4</text>
<line x1="198.00" y1="522.30" x2="200.80" y2="522.30" stroke="#222" stroke-width="0.8" />
<text x="195.00" y="524.50" font-size="6.4" text-anchor="end" fill="#444" stroke="#444" stroke-width="0.15">−0.6</text>
<line x1="213.60" y1="532.40" x2="213.60" y2="535.00" stroke="#222" stroke-width="0.8" />
<text x="211.80" y="544.00" font-size="6.4" text-anchor="middle" fill="#444" stroke="#444" stroke-width="0.15">−0.4</text>
<line x1="228.90" y1="532.40" x2="228.90" y2="535.00" stroke="#222" stroke-width="0.8" />
<text x="227.10" y="544.00" font-size="6.4" text-anchor="middle" fill="#444" stroke="#444" stroke-width="0.15">−0.2</text>
<line x1="244.20" y1="532.40" x2="244.20" y2="535.00" stroke="#222" stroke-width="0.8" />
<text x="244.20" y="544.00" font-size="6.4" text-anchor="middle" fill="#444" stroke="#444" stroke-width="0.15">0.0</text>
<line x1="259.50" y1="532.40" x2="259.50" y2="535.00" stroke="#222" stroke-width="0.8" />
<text x="259.50" y="544.00" font-size="6.4" text-anchor="middle" fill="#444" stroke="#444" stroke-width="0.15">0.2</text>
<line x1="274.80" y1="532.40" x2="274.80" y2="535.00" stroke="#222" stroke-width="0.8" />
<text x="274.80" y="544.00" font-size="6.4" text-anchor="middle" fill="#444" stroke="#444" stroke-width="0.15">0.4</text>
<line x1="290.10" y1="532.40" x2="290.10" y2="535.00" stroke="#222" stroke-width="0.8" />
<text x="290.10" y="544.00" font-size="6.4" text-anchor="middle" fill="#444" stroke="#444" stroke-width="0.15">0.6</text>
<line x1="305.40" y1="532.40" x2="305.40" y2="535.00" stroke="#222" stroke-width="0.8" />
<text x="305.40" y="544.00" font-size="6.4" text-anchor="middle" fill="#444" stroke="#444" stroke-width="0.15">0.8</text>
<text x="0" y="0" font-size="8.4" text-anchor="middle" fill="#404040" stroke="#404040" stroke-width="0.15" textLength="43.00" lengthAdjust="spacingAndGlyphs" transform="translate(178.20 492.00) rotate(-90)">PC2 (17.46%)</text>
<text x="233.80" y="557.00" font-size="9.0" stroke="#404040" stroke-width="0.15" textLength="42.40" lengthAdjust="spacingAndGlyphs">PC1 (27.77%)</text>
<rect x="262.10" y="457.50" width="2.8" height="2.8" fill="#1c3a6a"/>
<text x="268.20" y="461.30" font-size="6.8" stroke="#404040" stroke-width="0.15" textLength="33.90" lengthAdjust="spacingAndGlyphs">non cGVHD</text>
<circle cx="263.50" cy="465.20" r="1.5" fill="#f0a02e"/>
<text x="268.20" y="467.60" font-size="6.8" stroke="#404040" stroke-width="0.15" textLength="21.70" lengthAdjust="spacingAndGlyphs">cGVHD</text>
<text x="283.40" y="527.50" font-size="6.7" stroke="#404040" stroke-width="0.15" textLength="18.60" lengthAdjust="spacingAndGlyphs"><tspan font-style="italic">P</tspan> = .83</text>
<circle cx="213.10" cy="466.10" r="1.7" fill="#f0a02e"/>
<circle cx="215.50" cy="469.90" r="1.7" fill="#f0a02e"/>
<circle cx="217.80" cy="470.40" r="1.7" fill="#f0a02e"/>
<circle cx="221.30" cy="471.60" r="1.7" fill="#f0a02e"/>
<circle cx="222.20" cy="471.00" r="1.7" fill="#f0a02e"/>
<circle cx="230.80" cy="488.00" r="1.7" fill="#f0a02e"/>
<circle cx="234.80" cy="487.60" r="1.7" fill="#f0a02e"/>
<circle cx="242.10" cy="505.30" r="1.7" fill="#f0a02e"/>
<circle cx="241.00" cy="508.00" r="1.7" fill="#f0a02e"/>
<circle cx="240.30" cy="509.30" r="1.7" fill="#f0a02e"/>
<circle cx="285.00" cy="481.00" r="1.7" fill="#f0a02e"/>
<circle cx="295.60" cy="471.50" r="1.7" fill="#f0a02e"/>
<circle cx="301.10" cy="473.00" r="1.7" fill="#f0a02e"/>
<circle cx="302.90" cy="472.10" r="1.7" fill="#f0a02e"/>
<circle cx="239.90" cy="528.50" r="1.7" fill="#f0a02e"/>
<rect x="204.50" y="455.00" width="3.0" height="3.0" fill="#1c3a6a"/>
<rect x="215.00" y="466.50" width="3.0" height="3.0" fill="#1c3a6a"/>
<rect x="220.70" y="476.20" width="3.0" height="3.0" fill="#1c3a6a"/>
<rect x="223.10" y="478.50" width="3.0" height="3.0" fill="#1c3a6a"/>
<rect x="224.00" y="487.20" width="3.0" height="3.0" fill="#1c3a6a"/>
<rect x="224.50" y="488.70" width="3.0" height="3.0" fill="#1c3a6a"/>
<rect x="225.10" y="487.90" width="3.0" height="3.0" fill="#1c3a6a"/>
<rect x="232.20" y="489.90" width="3.0" height="3.0" fill="#1c3a6a"/>
<rect x="236.60" y="494.50" width="3.0" height="3.0" fill="#1c3a6a"/>
<rect x="237.70" y="493.40" width="3.0" height="3.0" fill="#1c3a6a"/>
<rect x="245.90" y="499.80" width="3.0" height="3.0" fill="#1c3a6a"/>
<rect x="248.10" y="491.20" width="3.0" height="3.0" fill="#1c3a6a"/>
<rect x="257.60" y="491.80" width="3.0" height="3.0" fill="#1c3a6a"/>
<rect x="266.00" y="489.60" width="3.0" height="3.0" fill="#1c3a6a"/>
<rect x="270.20" y="485.20" width="3.0" height="3.0" fill="#1c3a6a"/>
<text x="325.50" y="441.70" font-size="11.3" fill="#111" stroke="#111" stroke-width="0.35" font-weight="bold">K</text>
<line x1="358.40" y1="451.50" x2="358.40" y2="511.30" stroke="#222" stroke-width="0.9" />
<line x1="358.00" y1="510.90" x2="414.30" y2="510.90" stroke="#222" stroke-width="0.9" />
<line x1="355.60" y1="510.90" x2="358.40" y2="510.90" stroke="#222" stroke-width="0.8" />
<text x="352.80" y="513.20" font-size="6.6" text-anchor="end" fill="#444" stroke="#444" stroke-width="0.15">0</text>
<line x1="355.60" y1="492.05" x2="358.40" y2="492.05" stroke="#222" stroke-width="0.8" />
<text x="352.80" y="494.35" font-size="6.6" text-anchor="end" fill="#444" stroke="#444" stroke-width="0.15">1</text>
<line x1="355.60" y1="473.20" x2="358.40" y2="473.20" stroke="#222" stroke-width="0.8" />
<text x="352.80" y="475.50" font-size="6.6" text-anchor="end" fill="#444" stroke="#444" stroke-width="0.15">2</text>
<line x1="355.60" y1="454.35" x2="358.40" y2="454.35" stroke="#222" stroke-width="0.8" />
<text x="352.80" y="456.65" font-size="6.6" text-anchor="end" fill="#444" stroke="#444" stroke-width="0.15">3</text>
<line x1="366.60" y1="510.90" x2="366.60" y2="513.10" stroke="#222" stroke-width="0.8" />
<line x1="379.60" y1="510.90" x2="379.60" y2="513.10" stroke="#222" stroke-width="0.8" />
<line x1="392.60" y1="510.90" x2="392.60" y2="513.10" stroke="#222" stroke-width="0.8" />
<line x1="405.60" y1="510.90" x2="405.60" y2="513.10" stroke="#222" stroke-width="0.8" />
<text x="0" y="0" font-size="8.6" text-anchor="middle" fill="#404040" stroke="#404040" stroke-width="0.15" textLength="45.40" lengthAdjust="spacingAndGlyphs" transform="translate(343.50 481.30) rotate(-90)">Shannon index</text>
<circle cx="379.80" cy="475.30" r="1.1" fill="#f0a02e"/>
<circle cx="379.80" cy="478.40" r="1.1" fill="#f0a02e"/>
<circle cx="379.80" cy="481.80" r="1.1" fill="#f0a02e"/>
<circle cx="377.50" cy="487.00" r="1.1" fill="#f0a02e"/>
<circle cx="382.50" cy="485.20" r="1.1" fill="#f0a02e"/>
<circle cx="379.80" cy="488.00" r="1.1" fill="#f0a02e"/>
<circle cx="377.20" cy="490.80" r="1.1" fill="#f0a02e"/>
<circle cx="379.80" cy="490.80" r="1.1" fill="#f0a02e"/>
<circle cx="382.60" cy="491.40" r="1.1" fill="#f0a02e"/>
<circle cx="377.50" cy="494.40" r="1.1" fill="#f0a02e"/>
<circle cx="379.80" cy="493.80" r="1.1" fill="#f0a02e"/>
<circle cx="379.80" cy="497.80" r="1.1" fill="#f0a02e"/>
<circle cx="379.80" cy="500.70" r="1.1" fill="#f0a02e"/>
<circle cx="379.80" cy="503.60" r="1.1" fill="#f0a02e"/>
<circle cx="379.80" cy="507.00" r="1.1" fill="#f0a02e"/>
<circle cx="405.70" cy="488.30" r="1.1" fill="#f0a02e"/>
<circle cx="405.70" cy="490.80" r="1.1" fill="#f0a02e"/>
<circle cx="405.70" cy="493.30" r="1.1" fill="#f0a02e"/>
<circle cx="405.70" cy="495.70" r="1.1" fill="#f0a02e"/>
<circle cx="404.50" cy="498.20" r="1.1" fill="#f0a02e"/>
<circle cx="405.70" cy="499.50" r="1.1" fill="#f0a02e"/>
<circle cx="406.90" cy="500.70" r="1.1" fill="#f0a02e"/>
<circle cx="403.90" cy="503.20" r="1.1" fill="#f0a02e"/>
<circle cx="405.70" cy="504.40" r="1.1" fill="#f0a02e"/>
<circle cx="408.20" cy="505.60" r="1.1" fill="#f0a02e"/>
<circle cx="403.90" cy="506.90" r="1.1" fill="#f0a02e"/>
<circle cx="406.30" cy="507.50" r="1.1" fill="#f0a02e"/>
<circle cx="404.50" cy="508.70" r="1.1" fill="#f0a02e"/>
<circle cx="407.00" cy="509.30" r="1.1" fill="#f0a02e"/>
<circle cx="405.70" cy="510.00" r="1.1" fill="#f0a02e"/>
<circle cx="366.80" cy="465.40" r="1.3" fill="#1f4a86"/>
<circle cx="369.90" cy="464.80" r="1.3" fill="#1f4a86"/>
<circle cx="367.10" cy="467.30" r="1.3" fill="#1f4a86"/>
<circle cx="365.50" cy="471.00" r="1.3" fill="#1f4a86"/>
<circle cx="368.60" cy="471.00" r="1.3" fill="#1f4a86"/>
<circle cx="363.70" cy="474.70" r="1.3" fill="#1f4a86"/>
<circle cx="366.80" cy="474.10" r="1.3" fill="#1f4a86"/>
<circle cx="367.40" cy="475.30" r="1.3" fill="#1f4a86"/>
<circle cx="364.90" cy="475.90" r="1.3" fill="#1f4a86"/>
<circle cx="366.80" cy="477.80" r="1.3" fill="#1f4a86"/>
<circle cx="369.90" cy="475.90" r="1.3" fill="#1f4a86"/>
<circle cx="363.70" cy="487.70" r="1.3" fill="#1f4a86"/>
<circle cx="369.90" cy="486.50" r="1.3" fill="#1f4a86"/>
<circle cx="370.50" cy="489.60" r="1.3" fill="#1f4a86"/>
<circle cx="366.80" cy="492.00" r="1.3" fill="#1f4a86"/>
<circle cx="366.80" cy="495.10" r="1.3" fill="#1f4a86"/>
<circle cx="366.80" cy="499.50" r="1.3" fill="#1f4a86"/>
<circle cx="392.70" cy="470.40" r="1.3" fill="#1f4a86"/>
<circle cx="390.90" cy="474.70" r="1.3" fill="#1f4a86"/>
<circle cx="393.40" cy="475.90" r="1.3" fill="#1f4a86"/>
<circle cx="392.20" cy="477.20" r="1.3" fill="#1f4a86"/>
<circle cx="390.30" cy="479.00" r="1.3" fill="#1f4a86"/>
<circle cx="392.70" cy="479.60" r="1.3" fill="#1f4a86"/>
<circle cx="394.60" cy="479.00" r="1.3" fill="#1f4a86"/>
<circle cx="395.80" cy="480.30" r="1.3" fill="#1f4a86"/>
<circle cx="392.20" cy="482.10" r="1.3" fill="#1f4a86"/>
<circle cx="390.90" cy="484.60" r="1.3" fill="#1f4a86"/>
<circle cx="394.60" cy="484.60" r="1.3" fill="#1f4a86"/>
<circle cx="392.70" cy="485.80" r="1.3" fill="#1f4a86"/>
<circle cx="392.70" cy="490.80" r="1.3" fill="#1f4a86"/>
<circle cx="392.70" cy="494.50" r="1.3" fill="#1f4a86"/>
<circle cx="392.70" cy="498.80" r="1.3" fill="#1f4a86"/>
<line x1="363.00" y1="475.30" x2="371.00" y2="475.30" stroke="#111" stroke-width="0.9" />
<line x1="375.50" y1="492.60" x2="384.00" y2="492.60" stroke="#111" stroke-width="0.9" />
<line x1="388.30" y1="480.30" x2="397.00" y2="480.30" stroke="#111" stroke-width="0.9" />
<line x1="401.50" y1="505.00" x2="410.00" y2="505.00" stroke="#111" stroke-width="0.9" />
<path d="M366.9 457.3 V454.6 H379.9 V457.3 M392.8 457.3 V454.6 H407.8 V457.3" fill="none" stroke="#444" stroke-width="0.75"/>
<text x="373.40" y="455.30" font-size="6.8" text-anchor="middle" stroke="#404040" stroke-width="0.15">**</text>
<text x="400.30" y="455.30" font-size="6.8" text-anchor="middle" stroke="#404040" stroke-width="0.15">****</text>
<text x="0" y="0" font-size="6.7" text-anchor="end" fill="#404040" stroke="#404040" stroke-width="0.15" textLength="36.00" lengthAdjust="spacingAndGlyphs" transform="translate(370.80 519.80) rotate(-45)">non cGVHD</text>
<text x="0" y="0" font-size="6.7" text-anchor="end" fill="#404040" stroke="#404040" stroke-width="0.15" textLength="21.80" lengthAdjust="spacingAndGlyphs" transform="translate(384.00 519.80) rotate(-45)">cGVHD</text>
<text x="0" y="0" font-size="6.7" text-anchor="end" fill="#404040" stroke="#404040" stroke-width="0.15" textLength="36.00" lengthAdjust="spacingAndGlyphs" transform="translate(396.20 519.80) rotate(-45)">non cGVHD</text>
<text x="0" y="0" font-size="6.7" text-anchor="end" fill="#404040" stroke="#404040" stroke-width="0.15" textLength="21.80" lengthAdjust="spacingAndGlyphs" transform="translate(409.30 519.80) rotate(-45)">cGVHD</text>
<path d="M344.5 547.2 V550.3 H368.5 V547.2 M371.3 547.2 V550.3 H395.8 V547.2" fill="none" stroke="#666" stroke-width="0.8"/>
<text x="351.30" y="557.60" font-size="6.6" stroke="#404040" stroke-width="0.15" textLength="9.50" lengthAdjust="spacingAndGlyphs">Pre</text>
<text x="377.20" y="557.60" font-size="6.6" stroke="#404040" stroke-width="0.15" textLength="12.60" lengthAdjust="spacingAndGlyphs">Post</text>
<text x="432.80" y="441.70" font-size="11.3" fill="#111" stroke="#111" stroke-width="0.35" font-weight="bold">L</text>
<line x1="474.40" y1="451.50" x2="474.40" y2="512.70" stroke="#222" stroke-width="0.9" />
<line x1="474.00" y1="512.30" x2="513.00" y2="512.30" stroke="#222" stroke-width="0.9" />
<line x1="471.60" y1="512.30" x2="474.40" y2="512.30" stroke="#222" stroke-width="0.8" />
<text x="468.80" y="514.60" font-size="6.6" text-anchor="end" fill="#444" stroke="#444" stroke-width="0.15">0</text>
<line x1="471.60" y1="492.90" x2="474.40" y2="492.90" stroke="#222" stroke-width="0.8" />
<text x="468.80" y="495.20" font-size="6.6" text-anchor="end" fill="#444" stroke="#444" stroke-width="0.15">1</text>
<line x1="471.60" y1="473.50" x2="474.40" y2="473.50" stroke="#222" stroke-width="0.8" />
<text x="468.80" y="475.80" font-size="6.6" text-anchor="end" fill="#444" stroke="#444" stroke-width="0.15">2</text>
<line x1="471.60" y1="454.10" x2="474.40" y2="454.10" stroke="#222" stroke-width="0.8" />
<text x="468.80" y="456.40" font-size="6.6" text-anchor="end" fill="#444" stroke="#444" stroke-width="0.15">3</text>
<line x1="485.30" y1="512.30" x2="485.30" y2="514.50" stroke="#222" stroke-width="0.8" />
<line x1="501.90" y1="512.30" x2="501.90" y2="514.50" stroke="#222" stroke-width="0.8" />
<text x="0" y="0" font-size="8.6" text-anchor="middle" fill="#404040" stroke="#404040" stroke-width="0.15" textLength="60.00" lengthAdjust="spacingAndGlyphs" transform="translate(450.30 482.10) rotate(-90)">Shannon index ratio</text>
<text x="0" y="0" font-size="8.6" text-anchor="middle" fill="#404040" stroke="#404040" stroke-width="0.15" textLength="59.70" lengthAdjust="spacingAndGlyphs" transform="translate(459.00 482.90) rotate(-90)">(post-HCT/pre-HCT)</text>
<circle cx="502.00" cy="485.50" r="1.15" fill="#f0a02e"/>
<circle cx="499.60" cy="496.30" r="1.15" fill="#f0a02e"/>
<circle cx="502.00" cy="496.30" r="1.15" fill="#f0a02e"/>
<circle cx="504.60" cy="496.30" r="1.15" fill="#f0a02e"/>
<circle cx="506.70" cy="500.10" r="1.15" fill="#f0a02e"/>
<circle cx="497.50" cy="500.10" r="1.15" fill="#f0a02e"/>
<circle cx="502.00" cy="502.20" r="1.15" fill="#f0a02e"/>
<circle cx="498.90" cy="506.40" r="1.15" fill="#f0a02e"/>
<circle cx="502.00" cy="505.00" r="1.15" fill="#f0a02e"/>
<circle cx="505.30" cy="507.90" r="1.15" fill="#f0a02e"/>
<circle cx="497.50" cy="509.30" r="1.15" fill="#f0a02e"/>
<circle cx="501.00" cy="510.00" r="1.15" fill="#f0a02e"/>
<circle cx="503.90" cy="509.30" r="1.15" fill="#f0a02e"/>
<circle cx="506.70" cy="508.60" r="1.15" fill="#f0a02e"/>
<circle cx="502.00" cy="512.10" r="1.15" fill="#f0a02e"/>
<circle cx="498.90" cy="512.80" r="1.15" fill="#f0a02e"/>
<circle cx="485.50" cy="459.10" r="1.35" fill="#1f4a86"/>
<circle cx="485.50" cy="478.90" r="1.35" fill="#1f4a86"/>
<circle cx="483.40" cy="486.70" r="1.35" fill="#1f4a86"/>
<circle cx="486.90" cy="485.20" r="1.35" fill="#1f4a86"/>
<circle cx="486.20" cy="489.50" r="1.35" fill="#1f4a86"/>
<circle cx="482.00" cy="493.70" r="1.35" fill="#1f4a86"/>
<circle cx="484.80" cy="493.00" r="1.35" fill="#1f4a86"/>
<circle cx="486.90" cy="494.40" r="1.35" fill="#1f4a86"/>
<circle cx="489.00" cy="493.70" r="1.35" fill="#1f4a86"/>
<circle cx="486.20" cy="495.80" r="1.35" fill="#1f4a86"/>
<circle cx="483.40" cy="501.50" r="1.35" fill="#1f4a86"/>
<circle cx="486.90" cy="502.20" r="1.35" fill="#1f4a86"/>
<circle cx="489.70" cy="500.80" r="1.35" fill="#1f4a86"/>
<circle cx="485.50" cy="506.50" r="1.35" fill="#1f4a86"/>
<line x1="479.80" y1="493.70" x2="491.20" y2="493.70" stroke="#111" stroke-width="0.9" />
<line x1="496.40" y1="503.20" x2="507.40" y2="503.20" stroke="#111" stroke-width="0.9" />
<path d="M486.2 454.1 V452.0 H502.5 V454.1" fill="none" stroke="#444" stroke-width="0.7"/>
<text x="494.30" y="451.20" font-size="6.8" text-anchor="middle" stroke="#404040" stroke-width="0.15">***</text>
<text x="0" y="0" font-size="6.7" text-anchor="end" fill="#404040" stroke="#404040" stroke-width="0.15" textLength="35.50" lengthAdjust="spacingAndGlyphs" transform="translate(488.30 520.80) rotate(-45)">non cGVHD</text>
<text x="0" y="0" font-size="6.7" text-anchor="end" fill="#404040" stroke="#404040" stroke-width="0.15" textLength="21.50" lengthAdjust="spacingAndGlyphs" transform="translate(504.50 520.80) rotate(-45)">cGVHD</text>
<rect x="0.5" y="0.5" width="519" height="564.6" fill="none" stroke="#4a4a4a" stroke-width="1.1"/>
<rect x="0" y="564.6" width="520" height="1.4" fill="#3a3a3a"/>
</svg>
</body></html>
